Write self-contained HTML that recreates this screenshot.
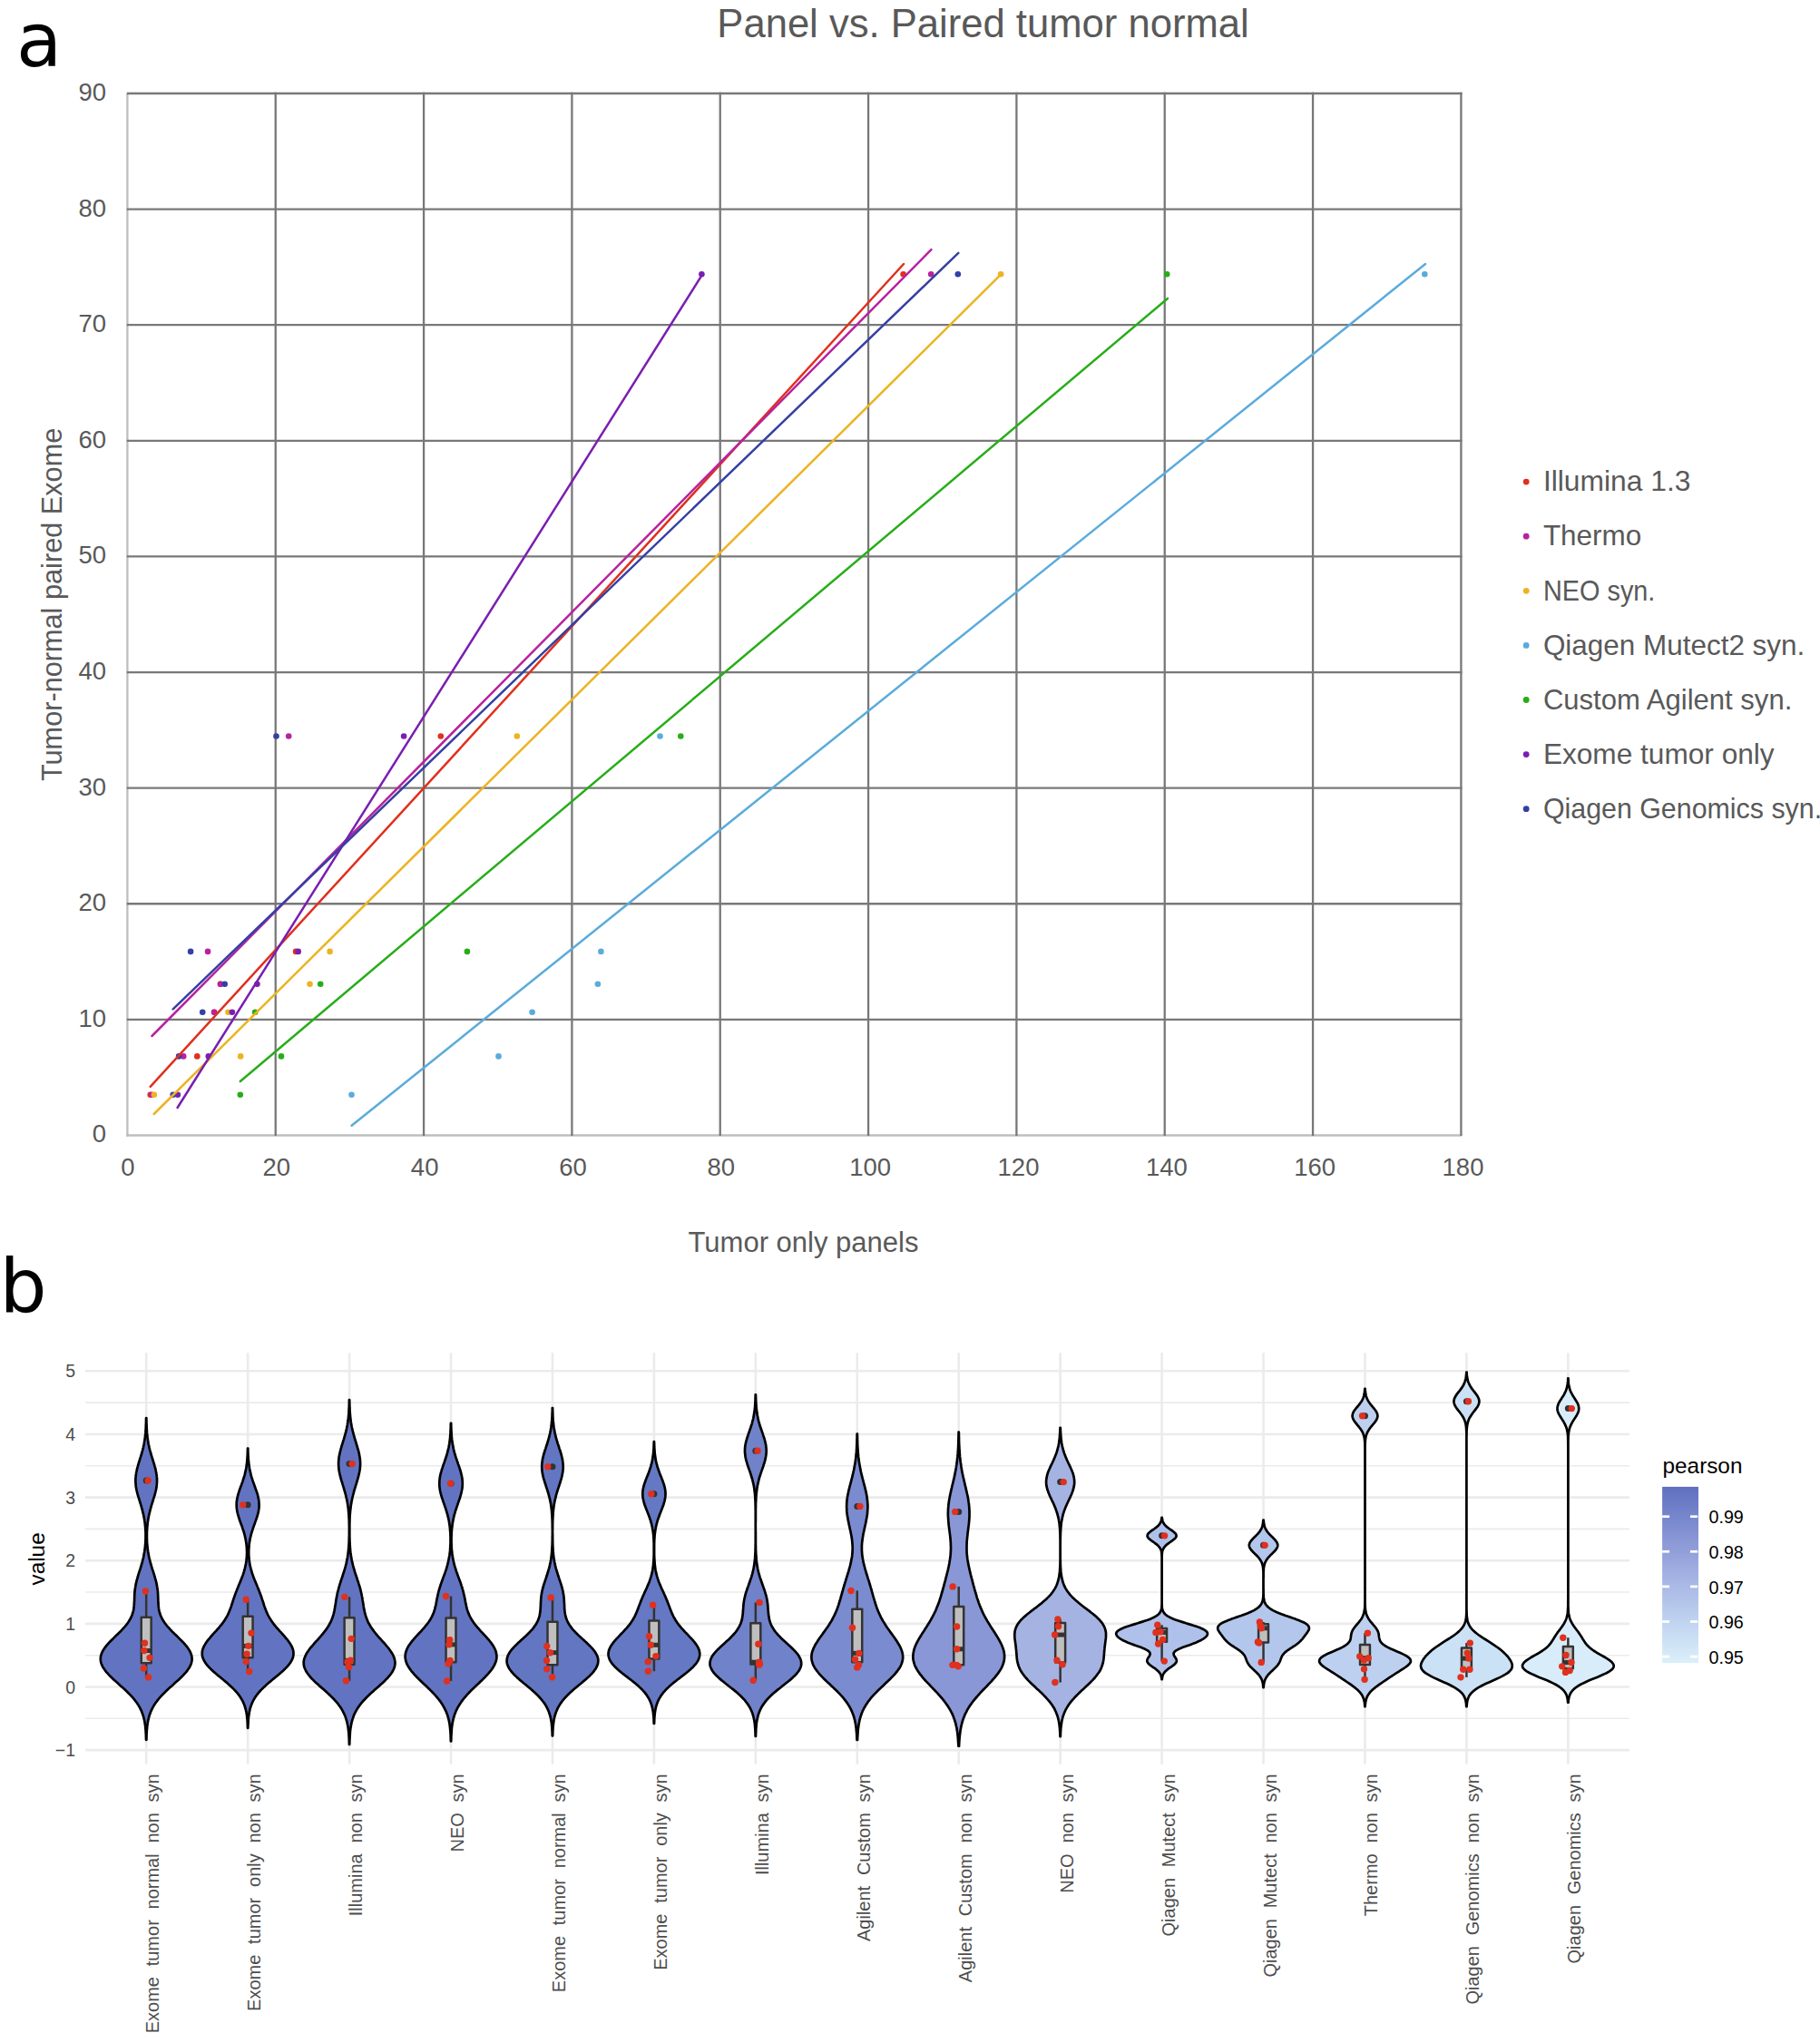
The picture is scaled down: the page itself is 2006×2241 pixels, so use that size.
<!DOCTYPE html>
<html lang="en"><head><meta charset="utf-8"><title>Panel vs. Paired tumor normal</title>
<style>
html,body{margin:0;padding:0;background:#fff;}
body{width:2006px;height:2241px;overflow:hidden;}
svg{display:block;}
text{white-space:pre;}
</style></head><body>
<svg width="2006" height="2241" viewBox="0 0 2006 2241">
<rect width="2006" height="2241" fill="#fff"/>
<g stroke="#bebebe" stroke-width="2.3" fill="none">
<line x1="140.40" y1="103.00" x2="140.40" y2="1252.64"/>
<line x1="139.25" y1="1251.49" x2="1611.20" y2="1251.49"/>
</g>
<g stroke="#787878" stroke-width="2.3" fill="none">
<line x1="139.80" y1="103.00" x2="1611.55" y2="103.00"/>
<line x1="139.80" y1="230.61" x2="1611.55" y2="230.61"/>
<line x1="139.80" y1="358.22" x2="1611.55" y2="358.22"/>
<line x1="139.80" y1="485.83" x2="1611.55" y2="485.83"/>
<line x1="139.80" y1="613.44" x2="1611.55" y2="613.44"/>
<line x1="139.80" y1="741.05" x2="1611.55" y2="741.05"/>
<line x1="139.80" y1="868.66" x2="1611.55" y2="868.66"/>
<line x1="139.80" y1="996.27" x2="1611.55" y2="996.27"/>
<line x1="139.80" y1="1123.88" x2="1611.55" y2="1123.88"/>
<line x1="303.73" y1="101.85" x2="303.73" y2="1252.09"/>
<line x1="467.07" y1="101.85" x2="467.07" y2="1252.09"/>
<line x1="630.40" y1="101.85" x2="630.40" y2="1252.09"/>
<line x1="793.73" y1="101.85" x2="793.73" y2="1252.09"/>
<line x1="957.06" y1="101.85" x2="957.06" y2="1252.09"/>
<line x1="1120.40" y1="101.85" x2="1120.40" y2="1252.09"/>
<line x1="1283.73" y1="101.85" x2="1283.73" y2="1252.09"/>
<line x1="1447.06" y1="101.85" x2="1447.06" y2="1252.09"/>
<line x1="1610.40" y1="101.85" x2="1610.40" y2="1252.09"/>
</g>
<g fill="#e0301e"><circle cx="165.70" cy="1206.70" r="3.3"/><circle cx="217.30" cy="1164.40" r="3.3"/><circle cx="236.10" cy="1115.80" r="3.3"/><circle cx="243.00" cy="1084.70" r="3.3"/><circle cx="326.10" cy="1048.90" r="3.3"/><circle cx="485.80" cy="811.50" r="3.3"/><circle cx="995.60" cy="302.20" r="3.3"/></g>
<g fill="#b8229e"><circle cx="167.50" cy="1206.70" r="3.3"/><circle cx="202.20" cy="1164.40" r="3.3"/><circle cx="236.10" cy="1115.80" r="3.3"/><circle cx="243.00" cy="1084.70" r="3.3"/><circle cx="229.05" cy="1048.90" r="3.3"/><circle cx="318.20" cy="811.50" r="3.3"/><circle cx="1026.20" cy="302.20" r="3.3"/></g>
<g fill="#edb321"><circle cx="169.90" cy="1206.70" r="3.3"/><circle cx="265.20" cy="1164.40" r="3.3"/><circle cx="251.50" cy="1115.80" r="3.3"/><circle cx="341.50" cy="1084.70" r="3.3"/><circle cx="363.60" cy="1048.90" r="3.3"/><circle cx="569.80" cy="811.50" r="3.3"/><circle cx="1103.10" cy="302.20" r="3.3"/></g>
<g fill="#5babdc"><circle cx="387.50" cy="1206.70" r="3.3"/><circle cx="549.50" cy="1164.40" r="3.3"/><circle cx="586.60" cy="1115.80" r="3.3"/><circle cx="658.90" cy="1084.70" r="3.3"/><circle cx="662.40" cy="1048.90" r="3.3"/><circle cx="727.50" cy="811.50" r="3.3"/><circle cx="1570.30" cy="302.20" r="3.3"/></g>
<g fill="#27ad19"><circle cx="264.80" cy="1206.70" r="3.3"/><circle cx="310.00" cy="1164.40" r="3.3"/><circle cx="281.15" cy="1115.80" r="3.3"/><circle cx="353.20" cy="1084.70" r="3.3"/><circle cx="514.90" cy="1048.90" r="3.3"/><circle cx="750.30" cy="811.50" r="3.3"/><circle cx="1286.20" cy="302.20" r="3.3"/></g>
<g fill="#7a1fb0"><circle cx="195.90" cy="1206.70" r="3.3"/><circle cx="229.80" cy="1164.40" r="3.3"/><circle cx="255.90" cy="1115.80" r="3.3"/><circle cx="283.40" cy="1084.70" r="3.3"/><circle cx="328.70" cy="1048.90" r="3.3"/><circle cx="445.10" cy="811.50" r="3.3"/><circle cx="773.40" cy="302.20" r="3.3"/></g>
<g fill="#3440a4"><circle cx="190.70" cy="1206.70" r="3.3"/><circle cx="197.10" cy="1164.40" r="3.3"/><circle cx="223.25" cy="1115.80" r="3.3"/><circle cx="247.70" cy="1084.70" r="3.3"/><circle cx="210.10" cy="1048.90" r="3.3"/><circle cx="304.50" cy="811.50" r="3.3"/><circle cx="1055.80" cy="302.20" r="3.3"/></g>
<line x1="165.70" y1="1197.80" x2="996.00" y2="291.00" stroke="#e0301e" stroke-width="2.5" stroke-linecap="round"/>
<line x1="167.50" y1="1142.00" x2="1026.40" y2="275.20" stroke="#b8229e" stroke-width="2.5" stroke-linecap="round"/>
<line x1="169.70" y1="1228.00" x2="1103.10" y2="302.60" stroke="#edb321" stroke-width="2.5" stroke-linecap="round"/>
<line x1="387.60" y1="1240.80" x2="1571.00" y2="291.00" stroke="#5babdc" stroke-width="2.5" stroke-linecap="round"/>
<line x1="264.80" y1="1192.00" x2="1287.00" y2="329.00" stroke="#27ad19" stroke-width="2.5" stroke-linecap="round"/>
<line x1="195.60" y1="1221.00" x2="773.40" y2="303.70" stroke="#7a1fb0" stroke-width="2.5" stroke-linecap="round"/>
<line x1="190.70" y1="1112.40" x2="1056.30" y2="278.90" stroke="#3440a4" stroke-width="2.5" stroke-linecap="round"/>
<g font-family='"Liberation Sans", Arial, Helvetica, sans-serif' font-size="27.5" fill="#595959">
<text x="117.1" y="110.90" text-anchor="end">90</text>
<text x="117.1" y="238.51" text-anchor="end">80</text>
<text x="117.1" y="366.12" text-anchor="end">70</text>
<text x="117.1" y="493.73" text-anchor="end">60</text>
<text x="117.1" y="621.34" text-anchor="end">50</text>
<text x="117.1" y="748.95" text-anchor="end">40</text>
<text x="117.1" y="876.56" text-anchor="end">30</text>
<text x="117.1" y="1004.17" text-anchor="end">20</text>
<text x="117.1" y="1131.78" text-anchor="end">10</text>
<text x="117.1" y="1259.39" text-anchor="end">0</text>
<text x="140.90" y="1296.0" text-anchor="middle">0</text>
<text x="304.83" y="1296.0" text-anchor="middle">20</text>
<text x="468.17" y="1296.0" text-anchor="middle">40</text>
<text x="631.50" y="1296.0" text-anchor="middle">60</text>
<text x="794.83" y="1296.0" text-anchor="middle">80</text>
<text x="959.16" y="1296.0" text-anchor="middle">100</text>
<text x="1122.50" y="1296.0" text-anchor="middle">120</text>
<text x="1285.83" y="1296.0" text-anchor="middle">140</text>
<text x="1449.16" y="1296.0" text-anchor="middle">160</text>
<text x="1612.50" y="1296.0" text-anchor="middle">180</text>
</g>
<text x="1083.5" y="41.1" font-family='"Liberation Sans", Arial, Helvetica, sans-serif' font-size="43.6" fill="#595959" text-anchor="middle">Panel vs. Paired tumor normal</text>
<text x="885.5" y="1379.8" font-family='"Liberation Sans", Arial, Helvetica, sans-serif' font-size="31" fill="#595959" text-anchor="middle">Tumor only panels</text>
<text transform="translate(68.05,666.4) rotate(-90)" font-family='"Liberation Sans", Arial, Helvetica, sans-serif' font-size="30.7" fill="#595959" text-anchor="middle">Tumor-normal paired Exome</text>
<circle cx="1682.2" cy="531.10" r="3.4" fill="#e0301e"/>
<text x="1700.9" y="541.30" font-family='"Liberation Sans", Arial, Helvetica, sans-serif' font-size="31.5" fill="#595959" textLength="162.6" lengthAdjust="spacingAndGlyphs">Illumina 1.3</text>
<circle cx="1682.2" cy="591.20" r="3.4" fill="#b8229e"/>
<text x="1700.9" y="601.40" font-family='"Liberation Sans", Arial, Helvetica, sans-serif' font-size="31.5" fill="#595959" textLength="108.4" lengthAdjust="spacingAndGlyphs">Thermo</text>
<circle cx="1682.2" cy="651.30" r="3.4" fill="#edb321"/>
<text x="1700.9" y="661.50" font-family='"Liberation Sans", Arial, Helvetica, sans-serif' font-size="31.5" fill="#595959" textLength="123.5" lengthAdjust="spacingAndGlyphs">NEO syn.</text>
<circle cx="1682.2" cy="711.40" r="3.4" fill="#5babdc"/>
<text x="1700.9" y="721.60" font-family='"Liberation Sans", Arial, Helvetica, sans-serif' font-size="31.5" fill="#595959" textLength="288.4" lengthAdjust="spacingAndGlyphs">Qiagen Mutect2 syn.</text>
<circle cx="1682.2" cy="771.50" r="3.4" fill="#27ad19"/>
<text x="1700.9" y="781.70" font-family='"Liberation Sans", Arial, Helvetica, sans-serif' font-size="31.5" fill="#595959" textLength="274.4" lengthAdjust="spacingAndGlyphs">Custom Agilent syn.</text>
<circle cx="1682.2" cy="831.60" r="3.4" fill="#7a1fb0"/>
<text x="1700.9" y="841.80" font-family='"Liberation Sans", Arial, Helvetica, sans-serif' font-size="31.5" fill="#595959" textLength="254.8" lengthAdjust="spacingAndGlyphs">Exome tumor only</text>
<circle cx="1682.2" cy="891.70" r="3.4" fill="#3440a4"/>
<text x="1700.9" y="901.90" font-family='"Liberation Sans", Arial, Helvetica, sans-serif' font-size="31.5" fill="#595959" textLength="307.2" lengthAdjust="spacingAndGlyphs">Qiagen Genomics syn.</text>
<text x="17.9" y="72.5" font-family='"DejaVu Sans", "Liberation Sans", sans-serif' font-size="82" fill="#000">a</text>
<text x="-0.6" y="1446.1" font-family='"DejaVu Sans", "Liberation Sans", sans-serif' font-size="82" fill="#000">b</text>
<g stroke="#ebebeb" fill="none">
<line x1="94.05" y1="1929.14" x2="1796.0" y2="1929.14" stroke-width="2.6"/>
<line x1="94.05" y1="1894.32" x2="1796.0" y2="1894.32" stroke-width="1.6"/>
<line x1="94.05" y1="1859.50" x2="1796.0" y2="1859.50" stroke-width="2.6"/>
<line x1="94.05" y1="1824.68" x2="1796.0" y2="1824.68" stroke-width="1.6"/>
<line x1="94.05" y1="1789.86" x2="1796.0" y2="1789.86" stroke-width="2.6"/>
<line x1="94.05" y1="1755.04" x2="1796.0" y2="1755.04" stroke-width="1.6"/>
<line x1="94.05" y1="1720.22" x2="1796.0" y2="1720.22" stroke-width="2.6"/>
<line x1="94.05" y1="1685.40" x2="1796.0" y2="1685.40" stroke-width="1.6"/>
<line x1="94.05" y1="1650.58" x2="1796.0" y2="1650.58" stroke-width="2.6"/>
<line x1="94.05" y1="1615.76" x2="1796.0" y2="1615.76" stroke-width="1.6"/>
<line x1="94.05" y1="1580.94" x2="1796.0" y2="1580.94" stroke-width="2.6"/>
<line x1="94.05" y1="1546.12" x2="1796.0" y2="1546.12" stroke-width="1.6"/>
<line x1="94.05" y1="1511.30" x2="1796.0" y2="1511.30" stroke-width="2.6"/>
<line x1="161.20" y1="1491.2" x2="161.20" y2="1944.8" stroke-width="2.6"/>
<line x1="273.14" y1="1491.2" x2="273.14" y2="1944.8" stroke-width="2.6"/>
<line x1="385.08" y1="1491.2" x2="385.08" y2="1944.8" stroke-width="2.6"/>
<line x1="497.02" y1="1491.2" x2="497.02" y2="1944.8" stroke-width="2.6"/>
<line x1="608.96" y1="1491.2" x2="608.96" y2="1944.8" stroke-width="2.6"/>
<line x1="720.90" y1="1491.2" x2="720.90" y2="1944.8" stroke-width="2.6"/>
<line x1="832.84" y1="1491.2" x2="832.84" y2="1944.8" stroke-width="2.6"/>
<line x1="944.78" y1="1491.2" x2="944.78" y2="1944.8" stroke-width="2.6"/>
<line x1="1056.72" y1="1491.2" x2="1056.72" y2="1944.8" stroke-width="2.6"/>
<line x1="1168.66" y1="1491.2" x2="1168.66" y2="1944.8" stroke-width="2.6"/>
<line x1="1280.60" y1="1491.2" x2="1280.60" y2="1944.8" stroke-width="2.6"/>
<line x1="1392.54" y1="1491.2" x2="1392.54" y2="1944.8" stroke-width="2.6"/>
<line x1="1504.48" y1="1491.2" x2="1504.48" y2="1944.8" stroke-width="2.6"/>
<line x1="1616.42" y1="1491.2" x2="1616.42" y2="1944.8" stroke-width="2.6"/>
<line x1="1728.36" y1="1491.2" x2="1728.36" y2="1944.8" stroke-width="2.6"/>
</g>
<path d="M161.0,1917.8 161.0,1916.2 160.9,1914.6 160.9,1912.9 160.8,1911.3 160.7,1909.7 160.6,1908.1 160.5,1906.5 160.3,1904.8 160.2,1903.2 160.0,1901.6 159.7,1900.0 159.5,1898.4 159.2,1896.8 158.8,1895.1 158.4,1893.5 158.0,1891.9 157.5,1890.3 156.9,1888.7 156.3,1887.0 155.6,1885.4 154.8,1883.8 154.0,1882.2 153.1,1880.6 152.1,1878.9 151.0,1877.3 149.8,1875.7 148.6,1874.1 147.3,1872.5 145.9,1870.8 144.4,1869.2 142.8,1867.6 141.2,1866.0 139.6,1864.4 137.9,1862.7 136.1,1861.1 134.3,1859.5 132.5,1857.9 130.7,1856.3 128.9,1854.6 127.1,1853.0 125.3,1851.4 123.6,1849.8 122.0,1848.2 120.4,1846.6 118.9,1844.9 117.4,1843.3 116.1,1841.7 115.0,1840.1 113.9,1838.5 113.0,1836.8 112.2,1835.2 111.6,1833.6 111.2,1832.0 110.9,1830.4 110.8,1828.7 110.9,1827.1 111.1,1825.5 111.6,1823.9 112.1,1822.3 112.9,1820.6 113.7,1819.0 114.8,1817.4 115.9,1815.8 117.2,1814.2 118.6,1812.5 120.0,1810.9 121.6,1809.3 123.2,1807.7 124.8,1806.1 126.5,1804.4 128.1,1802.8 129.8,1801.2 131.5,1799.6 133.1,1798.0 134.6,1796.4 136.1,1794.7 137.6,1793.1 138.9,1791.5 140.2,1789.9 141.3,1788.3 142.4,1786.6 143.3,1785.0 144.2,1783.4 144.9,1781.8 145.6,1780.2 146.1,1778.5 146.6,1776.9 147.0,1775.3 147.3,1773.7 147.5,1772.1 147.7,1770.4 147.8,1768.8 147.9,1767.2 148.0,1765.6 148.1,1764.0 148.1,1762.3 148.2,1760.7 148.2,1759.1 148.3,1757.5 148.4,1755.9 148.5,1754.2 148.7,1752.6 148.9,1751.0 149.2,1749.4 149.4,1747.8 149.8,1746.2 150.1,1744.5 150.5,1742.9 150.9,1741.3 151.4,1739.7 151.8,1738.1 152.3,1736.4 152.8,1734.8 153.3,1733.2 153.8,1731.6 154.4,1730.0 154.9,1728.3 155.4,1726.7 155.8,1725.1 156.3,1723.5 156.8,1721.9 157.2,1720.2 157.6,1718.6 158.0,1717.0 158.3,1715.4 158.6,1713.8 158.9,1712.1 159.2,1710.5 159.4,1708.9 159.7,1707.3 159.8,1705.7 160.0,1704.1 160.1,1702.4 160.3,1700.8 160.4,1699.2 160.4,1697.6 160.5,1696.0 160.5,1694.3 160.5,1692.7 160.5,1691.1 160.5,1689.5 160.4,1687.9 160.3,1686.2 160.2,1684.6 160.1,1683.0 159.9,1681.4 159.8,1679.8 159.6,1678.1 159.3,1676.5 159.1,1674.9 158.8,1673.3 158.5,1671.7 158.2,1670.0 157.8,1668.4 157.4,1666.8 157.0,1665.2 156.6,1663.6 156.1,1661.9 155.7,1660.3 155.2,1658.7 154.7,1657.1 154.2,1655.5 153.7,1653.9 153.2,1652.2 152.7,1650.6 152.2,1649.0 151.7,1647.4 151.3,1645.8 150.9,1644.1 150.5,1642.5 150.2,1640.9 149.9,1639.3 149.7,1637.7 149.6,1636.0 149.4,1634.4 149.4,1632.8 149.4,1631.2 149.4,1629.6 149.6,1627.9 149.7,1626.3 150.0,1624.7 150.2,1623.1 150.6,1621.5 150.9,1619.8 151.3,1618.2 151.8,1616.6 152.2,1615.0 152.7,1613.4 153.2,1611.7 153.7,1610.1 154.2,1608.5 154.7,1606.9 155.2,1605.3 155.7,1603.7 156.2,1602.0 156.6,1600.4 157.1,1598.8 157.5,1597.2 157.9,1595.6 158.2,1593.9 158.6,1592.3 158.9,1590.7 159.1,1589.1 159.4,1587.5 159.6,1585.8 159.9,1584.2 160.0,1582.6 160.2,1581.0 160.4,1579.4 160.5,1577.7 160.6,1576.1 160.7,1574.5 160.8,1572.9 160.8,1571.3 160.9,1569.6 161.0,1568.0 161.0,1566.4 161.0,1564.8 161.1,1563.2 161.3,1563.2 161.4,1564.8 161.4,1566.4 161.4,1568.0 161.5,1569.6 161.6,1571.3 161.6,1572.9 161.7,1574.5 161.8,1576.1 161.9,1577.7 162.0,1579.4 162.2,1581.0 162.4,1582.6 162.5,1584.2 162.8,1585.8 163.0,1587.5 163.3,1589.1 163.5,1590.7 163.8,1592.3 164.2,1593.9 164.5,1595.6 164.9,1597.2 165.3,1598.8 165.8,1600.4 166.2,1602.0 166.7,1603.7 167.2,1605.3 167.7,1606.9 168.2,1608.5 168.7,1610.1 169.2,1611.7 169.7,1613.4 170.2,1615.0 170.6,1616.6 171.1,1618.2 171.5,1619.8 171.8,1621.5 172.2,1623.1 172.4,1624.7 172.7,1626.3 172.8,1627.9 173.0,1629.6 173.0,1631.2 173.0,1632.8 173.0,1634.4 172.8,1636.0 172.7,1637.7 172.5,1639.3 172.2,1640.9 171.9,1642.5 171.5,1644.1 171.1,1645.8 170.7,1647.4 170.2,1649.0 169.7,1650.6 169.2,1652.2 168.7,1653.9 168.2,1655.5 167.7,1657.1 167.2,1658.7 166.7,1660.3 166.3,1661.9 165.8,1663.6 165.4,1665.2 165.0,1666.8 164.6,1668.4 164.2,1670.0 163.9,1671.7 163.6,1673.3 163.3,1674.9 163.1,1676.5 162.8,1678.1 162.6,1679.8 162.5,1681.4 162.3,1683.0 162.2,1684.6 162.1,1686.2 162.0,1687.9 161.9,1689.5 161.9,1691.1 161.9,1692.7 161.9,1694.3 161.9,1696.0 162.0,1697.6 162.0,1699.2 162.1,1700.8 162.3,1702.4 162.4,1704.1 162.6,1705.7 162.7,1707.3 163.0,1708.9 163.2,1710.5 163.5,1712.1 163.8,1713.8 164.1,1715.4 164.4,1717.0 164.8,1718.6 165.2,1720.2 165.6,1721.9 166.1,1723.5 166.6,1725.1 167.0,1726.7 167.5,1728.3 168.0,1730.0 168.6,1731.6 169.1,1733.2 169.6,1734.8 170.1,1736.4 170.6,1738.1 171.0,1739.7 171.5,1741.3 171.9,1742.9 172.3,1744.5 172.6,1746.2 173.0,1747.8 173.2,1749.4 173.5,1751.0 173.7,1752.6 173.9,1754.2 174.0,1755.9 174.1,1757.5 174.2,1759.1 174.2,1760.7 174.3,1762.3 174.3,1764.0 174.4,1765.6 174.5,1767.2 174.6,1768.8 174.7,1770.4 174.9,1772.1 175.1,1773.7 175.4,1775.3 175.8,1776.9 176.3,1778.5 176.8,1780.2 177.5,1781.8 178.2,1783.4 179.1,1785.0 180.0,1786.6 181.1,1788.3 182.2,1789.9 183.5,1791.5 184.8,1793.1 186.3,1794.7 187.8,1796.4 189.3,1798.0 190.9,1799.6 192.6,1801.2 194.3,1802.8 195.9,1804.4 197.6,1806.1 199.2,1807.7 200.8,1809.3 202.4,1810.9 203.8,1812.5 205.2,1814.2 206.5,1815.8 207.6,1817.4 208.7,1819.0 209.5,1820.6 210.3,1822.3 210.8,1823.9 211.3,1825.5 211.5,1827.1 211.6,1828.7 211.5,1830.4 211.2,1832.0 210.8,1833.6 210.2,1835.2 209.4,1836.8 208.5,1838.5 207.4,1840.1 206.3,1841.7 205.0,1843.3 203.5,1844.9 202.0,1846.6 200.4,1848.2 198.8,1849.8 197.1,1851.4 195.3,1853.0 193.5,1854.6 191.7,1856.3 189.9,1857.9 188.1,1859.5 186.3,1861.1 184.5,1862.7 182.8,1864.4 181.2,1866.0 179.6,1867.6 178.0,1869.2 176.5,1870.8 175.1,1872.5 173.8,1874.1 172.6,1875.7 171.4,1877.3 170.3,1878.9 169.3,1880.6 168.4,1882.2 167.6,1883.8 166.8,1885.4 166.1,1887.0 165.5,1888.7 164.9,1890.3 164.4,1891.9 164.0,1893.5 163.6,1895.1 163.2,1896.8 162.9,1898.4 162.7,1900.0 162.4,1901.6 162.2,1903.2 162.1,1904.8 161.9,1906.5 161.8,1908.1 161.7,1909.7 161.6,1911.3 161.5,1912.9 161.5,1914.6 161.4,1916.2 161.4,1917.8Z" fill="#6274c1" stroke="#000" stroke-width="2.7" stroke-linejoin="round"/>
<g stroke="#333" stroke-width="2.5" fill="none">
<line x1="161.20" y1="1754.07" x2="161.20" y2="1782.69"/>
<line x1="161.20" y1="1833.14" x2="161.20" y2="1848.91"/>
<rect x="155.75" y="1782.69" width="10.90" height="50.45" fill="#bfbfbf" stroke-linejoin="round"/>
<line x1="155.75" y1="1819.53" x2="166.65" y2="1819.53" stroke-width="5"/>
</g>
<circle cx="161.20" cy="1632.06" r="3.5" fill="#333"/>
<g fill="#e0301e"><circle cx="163.20" cy="1632.06" r="3.7"/><circle cx="160.40" cy="1754.07" r="3.7"/><circle cx="159.50" cy="1811.31" r="3.7"/><circle cx="158.90" cy="1819.53" r="3.7"/><circle cx="165.10" cy="1827.33" r="3.7"/><circle cx="158.40" cy="1838.96" r="3.7"/><circle cx="163.60" cy="1848.91" r="3.7"/></g>
<path d="M273.0,1904.8 272.9,1903.4 272.9,1902.0 272.8,1900.6 272.8,1899.2 272.7,1897.8 272.6,1896.4 272.5,1895.0 272.3,1893.5 272.2,1892.1 272.0,1890.7 271.8,1889.3 271.6,1887.9 271.3,1886.5 271.0,1885.1 270.6,1883.7 270.2,1882.3 269.8,1880.9 269.3,1879.5 268.8,1878.1 268.1,1876.7 267.5,1875.2 266.7,1873.8 265.9,1872.4 265.0,1871.0 264.1,1869.6 263.1,1868.2 262.0,1866.8 260.8,1865.4 259.5,1864.0 258.2,1862.6 256.9,1861.2 255.4,1859.8 253.9,1858.4 252.3,1856.9 250.7,1855.5 249.1,1854.1 247.4,1852.7 245.7,1851.3 244.0,1849.9 242.3,1848.5 240.6,1847.1 238.9,1845.7 237.3,1844.3 235.6,1842.9 234.1,1841.5 232.6,1840.1 231.2,1838.6 229.8,1837.2 228.6,1835.8 227.4,1834.4 226.4,1833.0 225.5,1831.6 224.7,1830.2 224.1,1828.8 223.5,1827.4 223.1,1826.0 222.9,1824.6 222.8,1823.2 222.8,1821.7 222.9,1820.3 223.2,1818.9 223.6,1817.5 224.2,1816.1 224.8,1814.7 225.6,1813.3 226.4,1811.9 227.3,1810.5 228.3,1809.1 229.4,1807.7 230.6,1806.3 231.8,1804.9 233.0,1803.4 234.2,1802.0 235.5,1800.6 236.8,1799.2 238.1,1797.8 239.3,1796.4 240.6,1795.0 241.8,1793.6 242.9,1792.2 244.1,1790.8 245.2,1789.4 246.2,1788.0 247.2,1786.6 248.1,1785.1 249.0,1783.7 249.8,1782.3 250.6,1780.9 251.3,1779.5 251.9,1778.1 252.5,1776.7 253.1,1775.3 253.7,1773.9 254.2,1772.5 254.7,1771.1 255.1,1769.7 255.6,1768.3 256.1,1766.8 256.5,1765.4 257.0,1764.0 257.4,1762.6 257.9,1761.2 258.4,1759.8 258.9,1758.4 259.4,1757.0 259.9,1755.6 260.5,1754.2 261.0,1752.8 261.6,1751.4 262.2,1749.9 262.7,1748.5 263.3,1747.1 263.9,1745.7 264.5,1744.3 265.1,1742.9 265.6,1741.5 266.2,1740.1 266.7,1738.7 267.3,1737.3 267.8,1735.9 268.2,1734.5 268.7,1733.1 269.1,1731.6 269.5,1730.2 269.9,1728.8 270.2,1727.4 270.5,1726.0 270.8,1724.6 271.1,1723.2 271.3,1721.8 271.5,1720.4 271.6,1719.0 271.8,1717.6 271.9,1716.2 272.0,1714.8 272.0,1713.3 272.1,1711.9 272.1,1710.5 272.0,1709.1 272.0,1707.7 271.9,1706.3 271.8,1704.9 271.7,1703.5 271.5,1702.1 271.4,1700.7 271.1,1699.3 270.9,1697.9 270.6,1696.5 270.3,1695.0 270.0,1693.6 269.7,1692.2 269.3,1690.8 268.9,1689.4 268.5,1688.0 268.0,1686.6 267.5,1685.2 267.1,1683.8 266.6,1682.4 266.1,1681.0 265.5,1679.6 265.0,1678.1 264.5,1676.7 264.0,1675.3 263.6,1673.9 263.1,1672.5 262.7,1671.1 262.3,1669.7 261.9,1668.3 261.6,1666.9 261.3,1665.5 261.1,1664.1 260.9,1662.7 260.8,1661.3 260.7,1659.8 260.7,1658.4 260.7,1657.0 260.8,1655.6 261.0,1654.2 261.2,1652.8 261.5,1651.4 261.8,1650.0 262.1,1648.6 262.5,1647.2 262.9,1645.8 263.4,1644.4 263.8,1643.0 264.3,1641.5 264.8,1640.1 265.3,1638.7 265.9,1637.3 266.4,1635.9 266.9,1634.5 267.4,1633.1 267.8,1631.7 268.3,1630.3 268.7,1628.9 269.2,1627.5 269.6,1626.1 269.9,1624.7 270.3,1623.2 270.6,1621.8 270.9,1620.4 271.2,1619.0 271.4,1617.6 271.6,1616.2 271.8,1614.8 272.0,1613.4 272.2,1612.0 272.3,1610.6 272.4,1609.2 272.5,1607.8 272.6,1606.3 272.7,1604.9 272.8,1603.5 272.8,1602.1 272.9,1600.7 272.9,1599.3 273.0,1597.9 273.0,1596.5 273.3,1596.5 273.3,1597.9 273.3,1599.3 273.4,1600.7 273.4,1602.1 273.5,1603.5 273.6,1604.9 273.7,1606.3 273.7,1607.8 273.9,1609.2 274.0,1610.6 274.1,1612.0 274.3,1613.4 274.5,1614.8 274.7,1616.2 274.9,1617.6 275.1,1619.0 275.4,1620.4 275.7,1621.8 276.0,1623.2 276.4,1624.7 276.7,1626.1 277.1,1627.5 277.5,1628.9 278.0,1630.3 278.4,1631.7 278.9,1633.1 279.4,1634.5 279.9,1635.9 280.4,1637.3 280.9,1638.7 281.4,1640.1 281.9,1641.5 282.4,1643.0 282.9,1644.4 283.4,1645.8 283.8,1647.2 284.2,1648.6 284.5,1650.0 284.8,1651.4 285.1,1652.8 285.3,1654.2 285.4,1655.6 285.5,1657.0 285.6,1658.4 285.6,1659.8 285.5,1661.3 285.4,1662.7 285.2,1664.1 285.0,1665.5 284.7,1666.9 284.4,1668.3 284.0,1669.7 283.6,1671.1 283.2,1672.5 282.7,1673.9 282.2,1675.3 281.7,1676.7 281.2,1678.1 280.7,1679.6 280.2,1681.0 279.7,1682.4 279.2,1683.8 278.7,1685.2 278.3,1686.6 277.8,1688.0 277.4,1689.4 277.0,1690.8 276.6,1692.2 276.3,1693.6 275.9,1695.0 275.6,1696.5 275.4,1697.9 275.1,1699.3 274.9,1700.7 274.7,1702.1 274.6,1703.5 274.5,1704.9 274.4,1706.3 274.3,1707.7 274.2,1709.1 274.2,1710.5 274.2,1711.9 274.2,1713.3 274.3,1714.8 274.4,1716.2 274.5,1717.6 274.6,1719.0 274.8,1720.4 275.0,1721.8 275.2,1723.2 275.5,1724.6 275.7,1726.0 276.1,1727.4 276.4,1728.8 276.8,1730.2 277.2,1731.6 277.6,1733.1 278.0,1734.5 278.5,1735.9 279.0,1737.3 279.5,1738.7 280.1,1740.1 280.6,1741.5 281.2,1742.9 281.8,1744.3 282.4,1745.7 283.0,1747.1 283.5,1748.5 284.1,1749.9 284.7,1751.4 285.3,1752.8 285.8,1754.2 286.4,1755.6 286.9,1757.0 287.4,1758.4 287.9,1759.8 288.4,1761.2 288.8,1762.6 289.3,1764.0 289.8,1765.4 290.2,1766.8 290.7,1768.3 291.1,1769.7 291.6,1771.1 292.1,1772.5 292.6,1773.9 293.2,1775.3 293.7,1776.7 294.4,1778.1 295.0,1779.5 295.7,1780.9 296.5,1782.3 297.3,1783.7 298.2,1785.1 299.1,1786.6 300.1,1788.0 301.1,1789.4 302.2,1790.8 303.3,1792.2 304.5,1793.6 305.7,1795.0 307.0,1796.4 308.2,1797.8 309.5,1799.2 310.8,1800.6 312.0,1802.0 313.3,1803.4 314.5,1804.9 315.7,1806.3 316.9,1807.7 317.9,1809.1 318.9,1810.5 319.9,1811.9 320.7,1813.3 321.5,1814.7 322.1,1816.1 322.6,1817.5 323.1,1818.9 323.3,1820.3 323.5,1821.7 323.5,1823.2 323.4,1824.6 323.1,1826.0 322.8,1827.4 322.2,1828.8 321.6,1830.2 320.8,1831.6 319.9,1833.0 318.8,1834.4 317.7,1835.8 316.5,1837.2 315.1,1838.6 313.7,1840.1 312.2,1841.5 310.6,1842.9 309.0,1844.3 307.4,1845.7 305.7,1847.1 304.0,1848.5 302.3,1849.9 300.6,1851.3 298.9,1852.7 297.2,1854.1 295.5,1855.5 293.9,1856.9 292.4,1858.4 290.9,1859.8 289.4,1861.2 288.0,1862.6 286.7,1864.0 285.5,1865.4 284.3,1866.8 283.2,1868.2 282.2,1869.6 281.2,1871.0 280.4,1872.4 279.6,1873.8 278.8,1875.2 278.1,1876.7 277.5,1878.1 277.0,1879.5 276.5,1880.9 276.0,1882.3 275.6,1883.7 275.3,1885.1 275.0,1886.5 274.7,1887.9 274.5,1889.3 274.3,1890.7 274.1,1892.1 273.9,1893.5 273.8,1895.0 273.7,1896.4 273.6,1897.8 273.5,1899.2 273.5,1900.6 273.4,1902.0 273.3,1903.4 273.3,1904.8Z" fill="#6274c1" stroke="#000" stroke-width="2.7" stroke-linejoin="round"/>
<g stroke="#333" stroke-width="2.5" fill="none">
<line x1="273.14" y1="1763.19" x2="273.14" y2="1781.64"/>
<line x1="273.14" y1="1827.33" x2="273.14" y2="1842.44"/>
<rect x="267.69" y="1781.64" width="10.90" height="45.68" fill="#bfbfbf" stroke-linejoin="round"/>
<line x1="267.69" y1="1814.37" x2="278.59" y2="1814.37" stroke-width="5"/>
</g>
<circle cx="273.14" cy="1658.87" r="3.5" fill="#333"/>
<g fill="#e0301e"><circle cx="267.70" cy="1658.87" r="3.7"/><circle cx="271.20" cy="1763.19" r="3.7"/><circle cx="277.00" cy="1800.10" r="3.7"/><circle cx="273.80" cy="1814.37" r="3.7"/><circle cx="272.10" cy="1823.22" r="3.7"/><circle cx="271.20" cy="1831.44" r="3.7"/><circle cx="274.70" cy="1842.44" r="3.7"/></g>
<path d="M384.9,1923.0 384.9,1921.3 384.8,1919.6 384.8,1917.8 384.7,1916.1 384.6,1914.4 384.5,1912.6 384.4,1910.9 384.2,1909.2 384.0,1907.4 383.8,1905.7 383.6,1904.0 383.3,1902.2 382.9,1900.5 382.6,1898.8 382.1,1897.0 381.6,1895.3 381.1,1893.6 380.4,1891.8 379.7,1890.1 378.9,1888.3 378.0,1886.6 377.1,1884.9 376.0,1883.1 374.9,1881.4 373.6,1879.7 372.3,1877.9 370.8,1876.2 369.3,1874.5 367.7,1872.7 366.0,1871.0 364.2,1869.3 362.4,1867.5 360.5,1865.8 358.6,1864.1 356.7,1862.3 354.7,1860.6 352.7,1858.9 350.8,1857.1 348.9,1855.4 347.0,1853.7 345.2,1851.9 343.5,1850.2 341.9,1848.5 340.5,1846.7 339.2,1845.0 338.0,1843.3 337.0,1841.5 336.2,1839.8 335.5,1838.1 335.0,1836.3 334.8,1834.6 334.7,1832.9 334.8,1831.1 335.1,1829.4 335.6,1827.7 336.3,1825.9 337.1,1824.2 338.0,1822.4 339.1,1820.7 340.3,1819.0 341.6,1817.2 343.0,1815.5 344.5,1813.8 346.0,1812.0 347.5,1810.3 349.1,1808.6 350.7,1806.8 352.2,1805.1 353.7,1803.4 355.2,1801.6 356.6,1799.9 358.0,1798.2 359.3,1796.4 360.5,1794.7 361.6,1793.0 362.7,1791.2 363.6,1789.5 364.5,1787.8 365.3,1786.0 366.0,1784.3 366.6,1782.6 367.2,1780.8 367.7,1779.1 368.1,1777.4 368.5,1775.6 368.8,1773.9 369.1,1772.2 369.4,1770.4 369.7,1768.7 370.0,1767.0 370.2,1765.2 370.5,1763.5 370.8,1761.8 371.1,1760.0 371.5,1758.3 371.8,1756.5 372.2,1754.8 372.7,1753.1 373.1,1751.3 373.6,1749.6 374.1,1747.9 374.6,1746.1 375.2,1744.4 375.7,1742.7 376.3,1740.9 376.9,1739.2 377.5,1737.5 378.0,1735.7 378.6,1734.0 379.2,1732.3 379.7,1730.5 380.2,1728.8 380.7,1727.1 381.1,1725.3 381.6,1723.6 382.0,1721.9 382.3,1720.1 382.7,1718.4 383.0,1716.7 383.2,1714.9 383.5,1713.2 383.7,1711.5 383.9,1709.7 384.1,1708.0 384.2,1706.3 384.4,1704.5 384.5,1702.8 384.6,1701.1 384.7,1699.3 384.7,1697.6 384.8,1695.9 384.8,1694.1 384.9,1692.4 384.9,1690.7 384.9,1688.9 384.9,1687.2 384.9,1685.4 384.9,1683.7 384.9,1682.0 384.8,1680.2 384.8,1678.5 384.8,1676.8 384.7,1675.0 384.6,1673.3 384.5,1671.6 384.4,1669.8 384.3,1668.1 384.1,1666.4 384.0,1664.6 383.8,1662.9 383.6,1661.2 383.3,1659.4 383.1,1657.7 382.8,1656.0 382.5,1654.2 382.1,1652.5 381.7,1650.8 381.3,1649.0 380.9,1647.3 380.4,1645.6 379.9,1643.8 379.4,1642.1 378.9,1640.4 378.4,1638.6 377.8,1636.9 377.3,1635.2 376.8,1633.4 376.2,1631.7 375.7,1630.0 375.3,1628.2 374.8,1626.5 374.4,1624.8 374.1,1623.0 373.7,1621.3 373.5,1619.5 373.3,1617.8 373.2,1616.1 373.1,1614.3 373.1,1612.6 373.2,1610.9 373.3,1609.1 373.5,1607.4 373.7,1605.7 374.1,1603.9 374.4,1602.2 374.8,1600.5 375.3,1598.7 375.7,1597.0 376.2,1595.3 376.7,1593.5 377.3,1591.8 377.8,1590.1 378.3,1588.3 378.9,1586.6 379.4,1584.9 379.9,1583.1 380.4,1581.4 380.9,1579.7 381.3,1577.9 381.7,1576.2 382.1,1574.5 382.4,1572.7 382.8,1571.0 383.1,1569.3 383.3,1567.5 383.6,1565.8 383.8,1564.1 384.0,1562.3 384.1,1560.6 384.3,1558.9 384.4,1557.1 384.5,1555.4 384.6,1553.6 384.7,1551.9 384.8,1550.2 384.8,1548.4 384.9,1546.7 384.9,1545.0 384.9,1543.2 385.2,1543.2 385.2,1545.0 385.3,1546.7 385.3,1548.4 385.4,1550.2 385.5,1551.9 385.5,1553.6 385.6,1555.4 385.7,1557.1 385.9,1558.9 386.0,1560.6 386.2,1562.3 386.4,1564.1 386.6,1565.8 386.8,1567.5 387.1,1569.3 387.4,1571.0 387.7,1572.7 388.1,1574.5 388.5,1576.2 388.9,1577.9 389.3,1579.7 389.8,1581.4 390.3,1583.1 390.8,1584.9 391.3,1586.6 391.8,1588.3 392.4,1590.1 392.9,1591.8 393.4,1593.5 393.9,1595.3 394.4,1597.0 394.9,1598.7 395.4,1600.5 395.8,1602.2 396.1,1603.9 396.4,1605.7 396.7,1607.4 396.9,1609.1 397.0,1610.9 397.1,1612.6 397.1,1614.3 397.0,1616.1 396.9,1617.8 396.7,1619.5 396.4,1621.3 396.1,1623.0 395.7,1624.8 395.3,1626.5 394.9,1628.2 394.4,1630.0 393.9,1631.7 393.4,1633.4 392.9,1635.2 392.3,1636.9 391.8,1638.6 391.3,1640.4 390.7,1642.1 390.2,1643.8 389.8,1645.6 389.3,1647.3 388.9,1649.0 388.4,1650.8 388.1,1652.5 387.7,1654.2 387.4,1656.0 387.1,1657.7 386.8,1659.4 386.6,1661.2 386.4,1662.9 386.2,1664.6 386.0,1666.4 385.9,1668.1 385.7,1669.8 385.6,1671.6 385.5,1673.3 385.5,1675.0 385.4,1676.8 385.4,1678.5 385.3,1680.2 385.3,1682.0 385.3,1683.7 385.3,1685.4 385.3,1687.2 385.3,1688.9 385.3,1690.7 385.3,1692.4 385.3,1694.1 385.4,1695.9 385.4,1697.6 385.5,1699.3 385.6,1701.1 385.7,1702.8 385.8,1704.5 385.9,1706.3 386.1,1708.0 386.2,1709.7 386.4,1711.5 386.7,1713.2 386.9,1714.9 387.2,1716.7 387.5,1718.4 387.8,1720.1 388.2,1721.9 388.6,1723.6 389.0,1725.3 389.5,1727.1 390.0,1728.8 390.5,1730.5 391.0,1732.3 391.5,1734.0 392.1,1735.7 392.7,1737.5 393.3,1739.2 393.8,1740.9 394.4,1742.7 395.0,1744.4 395.5,1746.1 396.1,1747.9 396.6,1749.6 397.1,1751.3 397.5,1753.1 397.9,1754.8 398.3,1756.5 398.7,1758.3 399.0,1760.0 399.4,1761.8 399.6,1763.5 399.9,1765.2 400.2,1767.0 400.5,1768.7 400.7,1770.4 401.0,1772.2 401.3,1773.9 401.7,1775.6 402.0,1777.4 402.5,1779.1 403.0,1780.8 403.5,1782.6 404.2,1784.3 404.9,1786.0 405.6,1787.8 406.5,1789.5 407.5,1791.2 408.5,1793.0 409.7,1794.7 410.9,1796.4 412.2,1798.2 413.5,1799.9 414.9,1801.6 416.4,1803.4 417.9,1805.1 419.5,1806.8 421.1,1808.6 422.6,1810.3 424.2,1812.0 425.7,1813.8 427.1,1815.5 428.5,1817.2 429.8,1819.0 431.0,1820.7 432.1,1822.4 433.1,1824.2 433.9,1825.9 434.6,1827.7 435.0,1829.4 435.3,1831.1 435.5,1832.9 435.4,1834.6 435.1,1836.3 434.7,1838.1 434.0,1839.8 433.2,1841.5 432.2,1843.3 431.0,1845.0 429.7,1846.7 428.2,1848.5 426.6,1850.2 424.9,1851.9 423.2,1853.7 421.3,1855.4 419.4,1857.1 417.4,1858.9 415.5,1860.6 413.5,1862.3 411.6,1864.1 409.6,1865.8 407.7,1867.5 405.9,1869.3 404.1,1871.0 402.5,1872.7 400.8,1874.5 399.3,1876.2 397.9,1877.9 396.5,1879.7 395.3,1881.4 394.1,1883.1 393.1,1884.9 392.1,1886.6 391.2,1888.3 390.4,1890.1 389.7,1891.8 389.1,1893.6 388.5,1895.3 388.0,1897.0 387.6,1898.8 387.2,1900.5 386.9,1902.2 386.6,1904.0 386.3,1905.7 386.1,1907.4 385.9,1909.2 385.8,1910.9 385.7,1912.6 385.6,1914.4 385.5,1916.1 385.4,1917.8 385.3,1919.6 385.3,1921.3 385.2,1923.0Z" fill="#6274c1" stroke="#000" stroke-width="2.7" stroke-linejoin="round"/>
<g stroke="#333" stroke-width="2.5" fill="none">
<line x1="385.08" y1="1760.33" x2="385.08" y2="1783.35"/>
<line x1="385.08" y1="1834.78" x2="385.08" y2="1852.81"/>
<rect x="379.63" y="1783.35" width="10.90" height="51.43" fill="#bfbfbf" stroke-linejoin="round"/>
<line x1="379.63" y1="1830.32" x2="390.53" y2="1830.32" stroke-width="5"/>
</g>
<circle cx="385.08" cy="1613.46" r="3.5" fill="#333"/>
<g fill="#e0301e"><circle cx="388.10" cy="1613.46" r="3.7"/><circle cx="379.80" cy="1760.33" r="3.7"/><circle cx="387.20" cy="1806.36" r="3.7"/><circle cx="386.30" cy="1830.32" r="3.7"/><circle cx="383.10" cy="1832.06" r="3.7"/><circle cx="384.60" cy="1837.49" r="3.7"/><circle cx="381.40" cy="1852.81" r="3.7"/></g>
<path d="M496.9,1919.5 496.8,1917.9 496.8,1916.3 496.7,1914.7 496.7,1913.1 496.6,1911.5 496.5,1909.9 496.4,1908.3 496.2,1906.7 496.1,1905.1 495.9,1903.5 495.7,1901.9 495.5,1900.3 495.2,1898.7 494.9,1897.1 494.5,1895.5 494.1,1893.9 493.7,1892.3 493.2,1890.7 492.6,1889.1 492.0,1887.5 491.3,1885.9 490.5,1884.3 489.7,1882.7 488.8,1881.1 487.9,1879.5 486.9,1877.9 485.8,1876.3 484.6,1874.6 483.3,1873.0 482.0,1871.4 480.7,1869.8 479.2,1868.2 477.7,1866.6 476.2,1865.0 474.6,1863.4 473.0,1861.8 471.4,1860.2 469.7,1858.6 468.0,1857.0 466.3,1855.4 464.6,1853.8 463.0,1852.2 461.3,1850.6 459.7,1849.0 458.2,1847.4 456.7,1845.8 455.3,1844.2 453.9,1842.6 452.7,1841.0 451.5,1839.4 450.5,1837.8 449.5,1836.2 448.7,1834.6 448.0,1833.0 447.5,1831.4 447.0,1829.8 446.8,1828.2 446.6,1826.6 446.7,1825.0 446.8,1823.4 447.1,1821.8 447.6,1820.2 448.2,1818.6 448.9,1817.0 449.7,1815.4 450.7,1813.8 451.8,1812.2 453.0,1810.6 454.2,1809.0 455.6,1807.4 456.9,1805.8 458.4,1804.2 459.8,1802.6 461.3,1801.0 462.8,1799.4 464.3,1797.8 465.8,1796.2 467.2,1794.6 468.5,1793.0 469.8,1791.4 471.1,1789.8 472.3,1788.2 473.4,1786.6 474.4,1785.0 475.3,1783.4 476.1,1781.8 476.9,1780.2 477.6,1778.6 478.2,1777.0 478.7,1775.4 479.2,1773.8 479.6,1772.2 480.0,1770.6 480.4,1769.0 480.7,1767.4 481.0,1765.8 481.3,1764.2 481.6,1762.6 481.9,1761.0 482.3,1759.4 482.6,1757.8 483.0,1756.2 483.4,1754.5 483.8,1752.9 484.3,1751.3 484.8,1749.7 485.3,1748.1 485.8,1746.5 486.4,1744.9 487.0,1743.3 487.5,1741.7 488.1,1740.1 488.7,1738.5 489.3,1736.9 489.9,1735.3 490.5,1733.7 491.0,1732.1 491.6,1730.5 492.1,1728.9 492.5,1727.3 493.0,1725.7 493.4,1724.1 493.8,1722.5 494.2,1720.9 494.5,1719.3 494.8,1717.7 495.1,1716.1 495.4,1714.5 495.6,1712.9 495.8,1711.3 496.0,1709.7 496.1,1708.1 496.2,1706.5 496.3,1704.9 496.4,1703.3 496.5,1701.7 496.5,1700.1 496.5,1698.5 496.5,1696.9 496.5,1695.3 496.5,1693.7 496.4,1692.1 496.4,1690.5 496.3,1688.9 496.1,1687.3 496.0,1685.7 495.9,1684.1 495.7,1682.5 495.5,1680.9 495.2,1679.3 495.0,1677.7 494.7,1676.1 494.4,1674.5 494.0,1672.9 493.6,1671.3 493.2,1669.7 492.8,1668.1 492.3,1666.5 491.8,1664.9 491.3,1663.3 490.8,1661.7 490.2,1660.1 489.7,1658.5 489.1,1656.9 488.5,1655.3 488.0,1653.7 487.5,1652.1 486.9,1650.5 486.5,1648.9 486.0,1647.3 485.6,1645.7 485.2,1644.1 484.9,1642.5 484.7,1640.9 484.5,1639.3 484.3,1637.7 484.3,1636.1 484.3,1634.5 484.3,1632.8 484.5,1631.2 484.7,1629.6 484.9,1628.0 485.2,1626.4 485.6,1624.8 486.0,1623.2 486.5,1621.6 486.9,1620.0 487.5,1618.4 488.0,1616.8 488.5,1615.2 489.1,1613.6 489.7,1612.0 490.2,1610.4 490.8,1608.8 491.3,1607.2 491.8,1605.6 492.3,1604.0 492.8,1602.4 493.2,1600.8 493.6,1599.2 494.0,1597.6 494.4,1596.0 494.7,1594.4 495.0,1592.8 495.3,1591.2 495.5,1589.6 495.7,1588.0 495.9,1586.4 496.1,1584.8 496.2,1583.2 496.3,1581.6 496.5,1580.0 496.5,1578.4 496.6,1576.8 496.7,1575.2 496.8,1573.6 496.8,1572.0 496.8,1570.4 496.9,1568.8 497.2,1568.8 497.2,1570.4 497.2,1572.0 497.3,1573.6 497.3,1575.2 497.4,1576.8 497.5,1578.4 497.6,1580.0 497.7,1581.6 497.8,1583.2 498.0,1584.8 498.1,1586.4 498.3,1588.0 498.5,1589.6 498.8,1591.2 499.1,1592.8 499.4,1594.4 499.7,1596.0 500.0,1597.6 500.4,1599.2 500.8,1600.8 501.3,1602.4 501.7,1604.0 502.2,1605.6 502.7,1607.2 503.3,1608.8 503.8,1610.4 504.4,1612.0 504.9,1613.6 505.5,1615.2 506.0,1616.8 506.6,1618.4 507.1,1620.0 507.6,1621.6 508.0,1623.2 508.4,1624.8 508.8,1626.4 509.1,1628.0 509.4,1629.6 509.6,1631.2 509.7,1632.8 509.8,1634.5 509.8,1636.1 509.7,1637.7 509.6,1639.3 509.4,1640.9 509.1,1642.5 508.8,1644.1 508.4,1645.7 508.0,1647.3 507.6,1648.9 507.1,1650.5 506.6,1652.1 506.0,1653.7 505.5,1655.3 504.9,1656.9 504.4,1658.5 503.8,1660.1 503.3,1661.7 502.8,1663.3 502.2,1664.9 501.7,1666.5 501.3,1668.1 500.8,1669.7 500.4,1671.3 500.0,1672.9 499.7,1674.5 499.4,1676.1 499.1,1677.7 498.8,1679.3 498.6,1680.9 498.4,1682.5 498.2,1684.1 498.0,1685.7 497.9,1687.3 497.8,1688.9 497.7,1690.5 497.6,1692.1 497.6,1693.7 497.5,1695.3 497.5,1696.9 497.5,1698.5 497.5,1700.1 497.6,1701.7 497.6,1703.3 497.7,1704.9 497.8,1706.5 497.9,1708.1 498.1,1709.7 498.3,1711.3 498.4,1712.9 498.7,1714.5 498.9,1716.1 499.2,1717.7 499.5,1719.3 499.8,1720.9 500.2,1722.5 500.6,1724.1 501.0,1725.7 501.5,1727.3 502.0,1728.9 502.5,1730.5 503.0,1732.1 503.6,1733.7 504.1,1735.3 504.7,1736.9 505.3,1738.5 505.9,1740.1 506.5,1741.7 507.1,1743.3 507.7,1744.9 508.2,1746.5 508.7,1748.1 509.3,1749.7 509.7,1751.3 510.2,1752.9 510.6,1754.5 511.0,1756.2 511.4,1757.8 511.8,1759.4 512.1,1761.0 512.4,1762.6 512.7,1764.2 513.0,1765.8 513.3,1767.4 513.7,1769.0 514.0,1770.6 514.4,1772.2 514.8,1773.8 515.3,1775.4 515.9,1777.0 516.5,1778.6 517.2,1780.2 517.9,1781.8 518.8,1783.4 519.7,1785.0 520.7,1786.6 521.8,1788.2 522.9,1789.8 524.2,1791.4 525.5,1793.0 526.9,1794.6 528.3,1796.2 529.7,1797.8 531.2,1799.4 532.7,1801.0 534.2,1802.6 535.7,1804.2 537.1,1805.8 538.5,1807.4 539.8,1809.0 541.1,1810.6 542.3,1812.2 543.3,1813.8 544.3,1815.4 545.1,1817.0 545.9,1818.6 546.5,1820.2 546.9,1821.8 547.2,1823.4 547.4,1825.0 547.4,1826.6 547.3,1828.2 547.0,1829.8 546.6,1831.4 546.0,1833.0 545.3,1834.6 544.5,1836.2 543.6,1837.8 542.5,1839.4 541.4,1841.0 540.1,1842.6 538.8,1844.2 537.3,1845.8 535.8,1847.4 534.3,1849.0 532.7,1850.6 531.1,1852.2 529.4,1853.8 527.7,1855.4 526.0,1857.0 524.4,1858.6 522.7,1860.2 521.0,1861.8 519.4,1863.4 517.8,1865.0 516.3,1866.6 514.8,1868.2 513.4,1869.8 512.0,1871.4 510.7,1873.0 509.5,1874.6 508.3,1876.3 507.2,1877.9 506.2,1879.5 505.2,1881.1 504.3,1882.7 503.5,1884.3 502.7,1885.9 502.1,1887.5 501.4,1889.1 500.9,1890.7 500.4,1892.3 499.9,1893.9 499.5,1895.5 499.2,1897.1 498.8,1898.7 498.6,1900.3 498.3,1901.9 498.1,1903.5 497.9,1905.1 497.8,1906.7 497.7,1908.3 497.6,1909.9 497.5,1911.5 497.4,1913.1 497.3,1914.7 497.3,1916.3 497.2,1917.9 497.2,1919.5Z" fill="#6274c1" stroke="#000" stroke-width="2.7" stroke-linejoin="round"/>
<g stroke="#333" stroke-width="2.5" fill="none">
<line x1="497.02" y1="1759.50" x2="497.02" y2="1783.59"/>
<line x1="497.02" y1="1832.27" x2="497.02" y2="1853.02"/>
<rect x="491.57" y="1783.59" width="10.90" height="48.68" fill="#bfbfbf" stroke-linejoin="round"/>
<line x1="491.57" y1="1812.84" x2="502.47" y2="1812.84" stroke-width="5"/>
</g>
<circle cx="497.02" cy="1635.26" r="3.5" fill="#333"/>
<g fill="#e0301e"><circle cx="496.50" cy="1635.26" r="3.7"/><circle cx="491.50" cy="1759.50" r="3.7"/><circle cx="495.80" cy="1807.69" r="3.7"/><circle cx="495.00" cy="1812.84" r="3.7"/><circle cx="496.10" cy="1830.53" r="3.7"/><circle cx="494.10" cy="1834.01" r="3.7"/><circle cx="492.60" cy="1853.02" r="3.7"/></g>
<path d="M608.8,1913.4 608.7,1911.8 608.7,1910.1 608.6,1908.5 608.5,1906.8 608.4,1905.2 608.3,1903.5 608.1,1901.9 608.0,1900.2 607.8,1898.6 607.5,1896.9 607.2,1895.3 606.9,1893.6 606.5,1892.0 606.0,1890.3 605.5,1888.7 604.9,1887.0 604.3,1885.4 603.5,1883.7 602.7,1882.1 601.8,1880.4 600.8,1878.8 599.7,1877.1 598.4,1875.5 597.1,1873.8 595.7,1872.2 594.2,1870.5 592.7,1868.9 591.0,1867.2 589.2,1865.6 587.4,1863.9 585.5,1862.3 583.6,1860.6 581.6,1859.0 579.6,1857.3 577.6,1855.7 575.6,1854.0 573.7,1852.4 571.8,1850.7 569.9,1849.1 568.2,1847.4 566.5,1845.8 565.0,1844.1 563.6,1842.5 562.3,1840.8 561.2,1839.2 560.3,1837.5 559.6,1835.9 559.0,1834.2 558.7,1832.6 558.6,1830.9 558.7,1829.3 559.0,1827.6 559.4,1826.0 560.1,1824.3 561.0,1822.7 562.0,1821.0 563.2,1819.4 564.6,1817.7 566.0,1816.1 567.6,1814.4 569.3,1812.8 571.0,1811.1 572.8,1809.5 574.6,1807.8 576.4,1806.2 578.2,1804.5 580.0,1802.9 581.7,1801.2 583.4,1799.6 584.9,1797.9 586.4,1796.3 587.8,1794.6 589.0,1792.9 590.2,1791.3 591.2,1789.6 592.1,1788.0 592.9,1786.3 593.5,1784.7 594.1,1783.0 594.6,1781.4 594.9,1779.7 595.2,1778.1 595.4,1776.4 595.6,1774.8 595.7,1773.1 595.8,1771.5 595.9,1769.8 595.9,1768.2 596.0,1766.5 596.1,1764.9 596.2,1763.2 596.3,1761.6 596.5,1759.9 596.7,1758.3 597.0,1756.6 597.3,1755.0 597.6,1753.3 598.0,1751.7 598.5,1750.0 598.9,1748.4 599.4,1746.7 599.9,1745.1 600.5,1743.4 601.0,1741.8 601.6,1740.1 602.1,1738.5 602.7,1736.8 603.2,1735.2 603.7,1733.5 604.2,1731.9 604.7,1730.2 605.2,1728.6 605.6,1726.9 606.0,1725.3 606.3,1723.6 606.7,1722.0 607.0,1720.3 607.3,1718.7 607.5,1717.0 607.7,1715.4 607.9,1713.7 608.1,1712.1 608.2,1710.4 608.3,1708.8 608.4,1707.1 608.5,1705.5 608.6,1703.8 608.7,1702.2 608.7,1700.5 608.8,1698.9 608.8,1697.2 608.8,1695.6 608.8,1693.9 608.9,1692.3 608.9,1690.6 608.9,1689.0 608.9,1687.3 608.9,1685.7 608.8,1684.0 608.8,1682.4 608.8,1680.7 608.8,1679.1 608.7,1677.4 608.7,1675.8 608.6,1674.1 608.5,1672.5 608.5,1670.8 608.3,1669.2 608.2,1667.5 608.1,1665.9 607.9,1664.2 607.7,1662.6 607.5,1660.9 607.3,1659.3 607.0,1657.6 606.7,1656.0 606.4,1654.3 606.0,1652.7 605.7,1651.0 605.2,1649.4 604.8,1647.7 604.3,1646.1 603.8,1644.4 603.3,1642.8 602.8,1641.1 602.2,1639.5 601.7,1637.8 601.2,1636.2 600.6,1634.5 600.1,1632.9 599.6,1631.2 599.1,1629.6 598.7,1627.9 598.3,1626.3 598.0,1624.6 597.7,1623.0 597.5,1621.3 597.3,1619.7 597.3,1618.0 597.2,1616.4 597.3,1614.7 597.4,1613.1 597.6,1611.4 597.8,1609.8 598.1,1608.1 598.5,1606.5 598.9,1604.8 599.3,1603.2 599.8,1601.5 600.3,1599.9 600.8,1598.2 601.4,1596.6 601.9,1594.9 602.5,1593.3 603.0,1591.6 603.5,1590.0 604.0,1588.3 604.5,1586.7 605.0,1585.0 605.4,1583.4 605.8,1581.7 606.2,1580.1 606.5,1578.4 606.9,1576.8 607.1,1575.1 607.4,1573.5 607.6,1571.8 607.8,1570.2 608.0,1568.5 608.1,1566.9 608.3,1565.2 608.4,1563.6 608.5,1561.9 608.6,1560.3 608.6,1558.6 608.7,1557.0 608.8,1555.3 608.8,1553.7 608.8,1552.0 609.1,1552.0 609.1,1553.7 609.2,1555.3 609.2,1557.0 609.3,1558.6 609.3,1560.3 609.4,1561.9 609.5,1563.6 609.6,1565.2 609.8,1566.9 609.9,1568.5 610.1,1570.2 610.3,1571.8 610.5,1573.5 610.8,1575.1 611.1,1576.8 611.4,1578.4 611.7,1580.1 612.1,1581.7 612.5,1583.4 612.9,1585.0 613.4,1586.7 613.9,1588.3 614.4,1590.0 614.9,1591.6 615.5,1593.3 616.0,1594.9 616.5,1596.6 617.1,1598.2 617.6,1599.9 618.1,1601.5 618.6,1603.2 619.0,1604.8 619.4,1606.5 619.8,1608.1 620.1,1609.8 620.3,1611.4 620.5,1613.1 620.6,1614.7 620.7,1616.4 620.7,1618.0 620.6,1619.7 620.4,1621.3 620.2,1623.0 619.9,1624.6 619.6,1626.3 619.2,1627.9 618.8,1629.6 618.3,1631.2 617.8,1632.9 617.3,1634.5 616.8,1636.2 616.2,1637.8 615.7,1639.5 615.1,1641.1 614.6,1642.8 614.1,1644.4 613.6,1646.1 613.1,1647.7 612.7,1649.4 612.3,1651.0 611.9,1652.7 611.5,1654.3 611.2,1656.0 610.9,1657.6 610.6,1659.3 610.4,1660.9 610.2,1662.6 610.0,1664.2 609.8,1665.9 609.7,1667.5 609.6,1669.2 609.5,1670.8 609.4,1672.5 609.3,1674.1 609.2,1675.8 609.2,1677.4 609.1,1679.1 609.1,1680.7 609.1,1682.4 609.1,1684.0 609.1,1685.7 609.0,1687.3 609.0,1689.0 609.1,1690.6 609.1,1692.3 609.1,1693.9 609.1,1695.6 609.1,1697.2 609.2,1698.9 609.2,1700.5 609.2,1702.2 609.3,1703.8 609.4,1705.5 609.5,1707.1 609.6,1708.8 609.7,1710.4 609.9,1712.1 610.0,1713.7 610.2,1715.4 610.4,1717.0 610.7,1718.7 610.9,1720.3 611.2,1722.0 611.6,1723.6 611.9,1725.3 612.3,1726.9 612.7,1728.6 613.2,1730.2 613.7,1731.9 614.2,1733.5 614.7,1735.2 615.2,1736.8 615.8,1738.5 616.3,1740.1 616.9,1741.8 617.4,1743.4 618.0,1745.1 618.5,1746.7 619.0,1748.4 619.5,1750.0 619.9,1751.7 620.3,1753.3 620.6,1755.0 620.9,1756.6 621.2,1758.3 621.4,1759.9 621.6,1761.6 621.7,1763.2 621.8,1764.9 621.9,1766.5 622.0,1768.2 622.1,1769.8 622.1,1771.5 622.2,1773.1 622.3,1774.8 622.5,1776.4 622.7,1778.1 623.0,1779.7 623.4,1781.4 623.8,1783.0 624.4,1784.7 625.0,1786.3 625.8,1788.0 626.7,1789.6 627.7,1791.3 628.9,1792.9 630.1,1794.6 631.5,1796.3 633.0,1797.9 634.5,1799.6 636.2,1801.2 637.9,1802.9 639.7,1804.5 641.5,1806.2 643.3,1807.8 645.1,1809.5 646.9,1811.1 648.6,1812.8 650.3,1814.4 651.9,1816.1 653.4,1817.7 654.7,1819.4 655.9,1821.0 656.9,1822.7 657.8,1824.3 658.5,1826.0 659.0,1827.6 659.3,1829.3 659.3,1830.9 659.2,1832.6 658.9,1834.2 658.3,1835.9 657.6,1837.5 656.7,1839.2 655.6,1840.8 654.4,1842.5 653.0,1844.1 651.4,1845.8 649.8,1847.4 648.0,1849.1 646.2,1850.7 644.2,1852.4 642.3,1854.0 640.3,1855.7 638.3,1857.3 636.3,1859.0 634.3,1860.6 632.4,1862.3 630.5,1863.9 628.7,1865.6 626.9,1867.2 625.3,1868.9 623.7,1870.5 622.2,1872.2 620.8,1873.8 619.5,1875.5 618.3,1877.1 617.2,1878.8 616.2,1880.4 615.2,1882.1 614.4,1883.7 613.7,1885.4 613.0,1887.0 612.4,1888.7 611.9,1890.3 611.4,1892.0 611.0,1893.6 610.7,1895.3 610.4,1896.9 610.2,1898.6 610.0,1900.2 609.8,1901.9 609.6,1903.5 609.5,1905.2 609.4,1906.8 609.3,1908.5 609.2,1910.1 609.2,1911.8 609.1,1913.4Z" fill="#6376c2" stroke="#000" stroke-width="2.7" stroke-linejoin="round"/>
<g stroke="#333" stroke-width="2.5" fill="none">
<line x1="608.96" y1="1761.03" x2="608.96" y2="1787.81"/>
<line x1="608.96" y1="1835.20" x2="608.96" y2="1848.71"/>
<rect x="603.51" y="1787.81" width="10.90" height="47.39" fill="#bfbfbf" stroke-linejoin="round"/>
<line x1="603.51" y1="1821.69" x2="614.41" y2="1821.69" stroke-width="5"/>
</g>
<circle cx="608.96" cy="1616.73" r="3.5" fill="#333"/>
<g fill="#e0301e"><circle cx="603.80" cy="1616.73" r="3.7"/><circle cx="607.10" cy="1761.03" r="3.7"/><circle cx="602.70" cy="1814.58" r="3.7"/><circle cx="606.40" cy="1821.69" r="3.7"/><circle cx="602.50" cy="1830.53" r="3.7"/><circle cx="602.70" cy="1839.86" r="3.7"/><circle cx="608.60" cy="1848.71" r="3.7"/></g>
<path d="M720.7,1899.8 720.7,1898.3 720.6,1896.9 720.6,1895.5 720.5,1894.1 720.4,1892.7 720.3,1891.2 720.1,1889.8 720.0,1888.4 719.8,1887.0 719.6,1885.6 719.3,1884.2 719.0,1882.7 718.7,1881.3 718.3,1879.9 717.8,1878.5 717.3,1877.1 716.7,1875.6 716.1,1874.2 715.4,1872.8 714.6,1871.4 713.7,1870.0 712.8,1868.6 711.7,1867.1 710.6,1865.7 709.4,1864.3 708.1,1862.9 706.7,1861.5 705.2,1860.1 703.7,1858.6 702.1,1857.2 700.4,1855.8 698.7,1854.4 696.9,1853.0 695.1,1851.5 693.2,1850.1 691.4,1848.7 689.5,1847.3 687.7,1845.9 685.9,1844.5 684.1,1843.0 682.4,1841.6 680.8,1840.2 679.3,1838.8 677.8,1837.4 676.5,1835.9 675.2,1834.5 674.1,1833.1 673.2,1831.7 672.4,1830.3 671.7,1828.9 671.2,1827.4 670.8,1826.0 670.6,1824.6 670.5,1823.2 670.6,1821.8 670.9,1820.3 671.2,1818.9 671.8,1817.5 672.4,1816.1 673.2,1814.7 674.1,1813.3 675.1,1811.8 676.2,1810.4 677.3,1809.0 678.5,1807.6 679.8,1806.2 681.1,1804.8 682.5,1803.3 683.8,1801.9 685.2,1800.5 686.6,1799.1 687.9,1797.7 689.2,1796.2 690.5,1794.8 691.7,1793.4 692.9,1792.0 694.0,1790.6 695.0,1789.2 696.0,1787.7 697.0,1786.3 697.8,1784.9 698.6,1783.5 699.4,1782.1 700.1,1780.6 700.8,1779.2 701.4,1777.8 702.0,1776.4 702.5,1775.0 703.1,1773.6 703.6,1772.1 704.1,1770.7 704.7,1769.3 705.2,1767.9 705.8,1766.5 706.3,1765.0 706.9,1763.6 707.5,1762.2 708.1,1760.8 708.7,1759.4 709.3,1758.0 710.0,1756.5 710.6,1755.1 711.3,1753.7 711.9,1752.3 712.6,1750.9 713.2,1749.5 713.8,1748.0 714.4,1746.6 715.0,1745.2 715.6,1743.8 716.1,1742.4 716.6,1740.9 717.0,1739.5 717.5,1738.1 717.9,1736.7 718.2,1735.3 718.6,1733.9 718.9,1732.4 719.2,1731.0 719.4,1729.6 719.6,1728.2 719.8,1726.8 720.0,1725.3 720.1,1723.9 720.2,1722.5 720.3,1721.1 720.4,1719.7 720.5,1718.3 720.6,1716.8 720.6,1715.4 720.7,1714.0 720.7,1712.6 720.7,1711.2 720.7,1709.8 720.7,1708.3 720.7,1706.9 720.7,1705.5 720.7,1704.1 720.7,1702.7 720.7,1701.2 720.6,1699.8 720.6,1698.4 720.5,1697.0 720.4,1695.6 720.3,1694.2 720.2,1692.7 720.1,1691.3 719.9,1689.9 719.7,1688.5 719.5,1687.1 719.3,1685.6 719.0,1684.2 718.8,1682.8 718.4,1681.4 718.1,1680.0 717.7,1678.6 717.3,1677.1 716.9,1675.7 716.4,1674.3 715.9,1672.9 715.4,1671.5 714.9,1670.0 714.3,1668.6 713.8,1667.2 713.2,1665.8 712.7,1664.4 712.1,1663.0 711.6,1661.5 711.0,1660.1 710.5,1658.7 710.1,1657.3 709.7,1655.9 709.3,1654.5 709.0,1653.0 708.7,1651.6 708.5,1650.2 708.4,1648.8 708.3,1647.4 708.3,1645.9 708.4,1644.5 708.5,1643.1 708.7,1641.7 709.0,1640.3 709.3,1638.9 709.7,1637.4 710.1,1636.0 710.6,1634.6 711.1,1633.2 711.6,1631.8 712.2,1630.3 712.7,1628.9 713.3,1627.5 713.9,1626.1 714.4,1624.7 715.0,1623.3 715.5,1621.8 716.0,1620.4 716.5,1619.0 716.9,1617.6 717.4,1616.2 717.8,1614.7 718.1,1613.3 718.5,1611.9 718.8,1610.5 719.1,1609.1 719.3,1607.7 719.5,1606.2 719.7,1604.8 719.9,1603.4 720.1,1602.0 720.2,1600.6 720.3,1599.2 720.4,1597.7 720.5,1596.3 720.6,1594.9 720.6,1593.5 720.7,1592.1 720.7,1590.6 720.8,1589.2 721.0,1589.2 721.1,1590.6 721.1,1592.1 721.2,1593.5 721.2,1594.9 721.3,1596.3 721.4,1597.7 721.5,1599.2 721.6,1600.6 721.7,1602.0 721.9,1603.4 722.1,1604.8 722.3,1606.2 722.5,1607.7 722.7,1609.1 723.0,1610.5 723.3,1611.9 723.7,1613.3 724.0,1614.7 724.4,1616.2 724.9,1617.6 725.3,1619.0 725.8,1620.4 726.3,1621.8 726.8,1623.3 727.4,1624.7 727.9,1626.1 728.5,1627.5 729.1,1628.9 729.6,1630.3 730.2,1631.8 730.7,1633.2 731.2,1634.6 731.7,1636.0 732.1,1637.4 732.5,1638.9 732.8,1640.3 733.1,1641.7 733.3,1643.1 733.4,1644.5 733.5,1645.9 733.5,1647.4 733.4,1648.8 733.3,1650.2 733.1,1651.6 732.8,1653.0 732.5,1654.5 732.1,1655.9 731.7,1657.3 731.3,1658.7 730.8,1660.1 730.2,1661.5 729.7,1663.0 729.1,1664.4 728.6,1665.8 728.0,1667.2 727.5,1668.6 726.9,1670.0 726.4,1671.5 725.9,1672.9 725.4,1674.3 724.9,1675.7 724.5,1677.1 724.1,1678.6 723.7,1680.0 723.4,1681.4 723.0,1682.8 722.8,1684.2 722.5,1685.6 722.3,1687.1 722.1,1688.5 721.9,1689.9 721.7,1691.3 721.6,1692.7 721.5,1694.2 721.4,1695.6 721.3,1697.0 721.2,1698.4 721.2,1699.8 721.1,1701.2 721.1,1702.7 721.1,1704.1 721.1,1705.5 721.1,1706.9 721.1,1708.3 721.1,1709.8 721.1,1711.2 721.1,1712.6 721.1,1714.0 721.2,1715.4 721.2,1716.8 721.3,1718.3 721.4,1719.7 721.5,1721.1 721.6,1722.5 721.7,1723.9 721.8,1725.3 722.0,1726.8 722.2,1728.2 722.4,1729.6 722.6,1731.0 722.9,1732.4 723.2,1733.9 723.6,1735.3 723.9,1736.7 724.3,1738.1 724.8,1739.5 725.2,1740.9 725.7,1742.4 726.2,1743.8 726.8,1745.2 727.4,1746.6 728.0,1748.0 728.6,1749.5 729.2,1750.9 729.9,1752.3 730.5,1753.7 731.2,1755.1 731.8,1756.5 732.5,1758.0 733.1,1759.4 733.7,1760.8 734.3,1762.2 734.9,1763.6 735.5,1765.0 736.0,1766.5 736.6,1767.9 737.1,1769.3 737.7,1770.7 738.2,1772.1 738.7,1773.6 739.3,1775.0 739.8,1776.4 740.4,1777.8 741.0,1779.2 741.7,1780.6 742.4,1782.1 743.2,1783.5 744.0,1784.9 744.8,1786.3 745.8,1787.7 746.8,1789.2 747.8,1790.6 748.9,1792.0 750.1,1793.4 751.3,1794.8 752.6,1796.2 753.9,1797.7 755.2,1799.1 756.6,1800.5 758.0,1801.9 759.3,1803.3 760.7,1804.8 762.0,1806.2 763.3,1807.6 764.5,1809.0 765.6,1810.4 766.7,1811.8 767.7,1813.3 768.6,1814.7 769.4,1816.1 770.0,1817.5 770.6,1818.9 770.9,1820.3 771.2,1821.8 771.3,1823.2 771.2,1824.6 771.0,1826.0 770.6,1827.4 770.1,1828.9 769.4,1830.3 768.6,1831.7 767.7,1833.1 766.6,1834.5 765.3,1835.9 764.0,1837.4 762.5,1838.8 761.0,1840.2 759.4,1841.6 757.7,1843.0 755.9,1844.5 754.1,1845.9 752.3,1847.3 750.4,1848.7 748.6,1850.1 746.7,1851.5 744.9,1853.0 743.1,1854.4 741.4,1855.8 739.7,1857.2 738.1,1858.6 736.6,1860.1 735.1,1861.5 733.7,1862.9 732.4,1864.3 731.2,1865.7 730.1,1867.1 729.0,1868.6 728.1,1870.0 727.2,1871.4 726.4,1872.8 725.7,1874.2 725.1,1875.6 724.5,1877.1 724.0,1878.5 723.5,1879.9 723.1,1881.3 722.8,1882.7 722.5,1884.2 722.2,1885.6 722.0,1887.0 721.8,1888.4 721.7,1889.8 721.5,1891.2 721.4,1892.7 721.3,1894.1 721.2,1895.5 721.2,1896.9 721.1,1898.3 721.1,1899.8Z" fill="#6578c3" stroke="#000" stroke-width="2.7" stroke-linejoin="round"/>
<g stroke="#333" stroke-width="2.5" fill="none">
<line x1="720.90" y1="1769.18" x2="720.90" y2="1786.48"/>
<line x1="720.90" y1="1828.61" x2="720.90" y2="1842.23"/>
<rect x="715.45" y="1786.48" width="10.90" height="42.13" fill="#bfbfbf" stroke-linejoin="round"/>
<line x1="715.45" y1="1813.26" x2="726.35" y2="1813.26" stroke-width="5"/>
</g>
<circle cx="720.90" cy="1646.75" r="3.5" fill="#333"/>
<g fill="#e0301e"><circle cx="717.90" cy="1646.75" r="3.7"/><circle cx="719.60" cy="1769.18" r="3.7"/><circle cx="715.50" cy="1803.79" r="3.7"/><circle cx="717.20" cy="1813.26" r="3.7"/><circle cx="722.90" cy="1825.59" r="3.7"/><circle cx="714.20" cy="1831.64" r="3.7"/><circle cx="714.40" cy="1842.23" r="3.7"/></g>
<path d="M832.7,1914.0 832.6,1912.3 832.6,1910.6 832.5,1908.8 832.4,1907.1 832.3,1905.4 832.2,1903.7 832.0,1902.0 831.9,1900.2 831.6,1898.5 831.4,1896.8 831.0,1895.1 830.7,1893.4 830.2,1891.6 829.7,1889.9 829.2,1888.2 828.5,1886.5 827.7,1884.8 826.9,1883.0 825.9,1881.3 824.9,1879.6 823.7,1877.9 822.4,1876.2 821.0,1874.4 819.5,1872.7 817.8,1871.0 816.1,1869.3 814.2,1867.6 812.3,1865.8 810.3,1864.1 808.2,1862.4 806.0,1860.7 803.8,1859.0 801.6,1857.2 799.4,1855.5 797.3,1853.8 795.2,1852.1 793.2,1850.4 791.3,1848.6 789.5,1846.9 787.9,1845.2 786.4,1843.5 785.2,1841.8 784.2,1840.0 783.4,1838.3 782.8,1836.6 782.5,1834.9 782.5,1833.2 782.7,1831.4 783.1,1829.7 783.8,1828.0 784.6,1826.3 785.7,1824.6 787.0,1822.8 788.5,1821.1 790.0,1819.4 791.7,1817.7 793.5,1816.0 795.4,1814.2 797.3,1812.5 799.2,1810.8 801.0,1809.1 802.9,1807.4 804.7,1805.7 806.4,1803.9 808.0,1802.2 809.6,1800.5 811.0,1798.8 812.3,1797.1 813.4,1795.3 814.4,1793.6 815.3,1791.9 816.1,1790.2 816.8,1788.5 817.3,1786.7 817.8,1785.0 818.1,1783.3 818.4,1781.6 818.6,1779.9 818.8,1778.1 818.9,1776.4 819.0,1774.7 819.2,1773.0 819.3,1771.3 819.4,1769.5 819.6,1767.8 819.8,1766.1 820.1,1764.4 820.4,1762.7 820.8,1760.9 821.2,1759.2 821.6,1757.5 822.1,1755.8 822.7,1754.1 823.3,1752.3 823.8,1750.6 824.5,1748.9 825.1,1747.2 825.7,1745.5 826.3,1743.7 826.9,1742.0 827.5,1740.3 828.1,1738.6 828.6,1736.9 829.1,1735.1 829.5,1733.4 830.0,1731.7 830.3,1730.0 830.7,1728.3 831.0,1726.5 831.3,1724.8 831.5,1723.1 831.7,1721.4 831.9,1719.7 832.1,1717.9 832.2,1716.2 832.3,1714.5 832.4,1712.8 832.5,1711.1 832.6,1709.3 832.6,1707.6 832.7,1705.9 832.7,1704.2 832.7,1702.5 832.8,1700.8 832.8,1699.0 832.8,1697.3 832.8,1695.6 832.8,1693.9 832.8,1692.2 832.8,1690.4 832.8,1688.7 832.8,1687.0 832.8,1685.3 832.8,1683.6 832.8,1681.8 832.8,1680.1 832.8,1678.4 832.8,1676.7 832.8,1675.0 832.8,1673.2 832.8,1671.5 832.8,1669.8 832.8,1668.1 832.8,1666.4 832.8,1664.6 832.7,1662.9 832.7,1661.2 832.7,1659.5 832.6,1657.8 832.6,1656.0 832.5,1654.3 832.4,1652.6 832.3,1650.9 832.2,1649.2 832.1,1647.4 831.9,1645.7 831.7,1644.0 831.5,1642.3 831.3,1640.6 831.0,1638.8 830.7,1637.1 830.3,1635.4 829.9,1633.7 829.5,1632.0 829.0,1630.2 828.5,1628.5 828.0,1626.8 827.5,1625.1 826.9,1623.4 826.3,1621.6 825.7,1619.9 825.1,1618.2 824.5,1616.5 823.9,1614.8 823.4,1613.0 822.9,1611.3 822.4,1609.6 822.0,1607.9 821.6,1606.2 821.4,1604.4 821.2,1602.7 821.0,1601.0 821.0,1599.3 821.0,1597.6 821.1,1595.9 821.3,1594.1 821.6,1592.4 821.9,1590.7 822.4,1589.0 822.8,1587.3 823.3,1585.5 823.9,1583.8 824.4,1582.1 825.0,1580.4 825.6,1578.7 826.2,1576.9 826.8,1575.2 827.4,1573.5 827.9,1571.8 828.5,1570.1 829.0,1568.3 829.4,1566.6 829.9,1564.9 830.3,1563.2 830.6,1561.5 830.9,1559.7 831.2,1558.0 831.5,1556.3 831.7,1554.6 831.9,1552.9 832.1,1551.1 832.2,1549.4 832.3,1547.7 832.4,1546.0 832.5,1544.3 832.6,1542.5 832.6,1540.8 832.7,1539.1 832.7,1537.4 833.0,1537.4 833.0,1539.1 833.1,1540.8 833.1,1542.5 833.2,1544.3 833.3,1546.0 833.4,1547.7 833.5,1549.4 833.6,1551.1 833.8,1552.9 834.0,1554.6 834.2,1556.3 834.5,1558.0 834.7,1559.7 835.1,1561.5 835.4,1563.2 835.8,1564.9 836.2,1566.6 836.7,1568.3 837.2,1570.1 837.7,1571.8 838.3,1573.5 838.9,1575.2 839.5,1576.9 840.1,1578.7 840.7,1580.4 841.2,1582.1 841.8,1583.8 842.4,1585.5 842.9,1587.3 843.3,1589.0 843.7,1590.7 844.1,1592.4 844.3,1594.1 844.5,1595.9 844.7,1597.6 844.7,1599.3 844.7,1601.0 844.5,1602.7 844.3,1604.4 844.0,1606.2 843.7,1607.9 843.3,1609.6 842.8,1611.3 842.3,1613.0 841.7,1614.8 841.2,1616.5 840.6,1618.2 840.0,1619.9 839.4,1621.6 838.8,1623.4 838.2,1625.1 837.7,1626.8 837.1,1628.5 836.6,1630.2 836.2,1632.0 835.8,1633.7 835.4,1635.4 835.0,1637.1 834.7,1638.8 834.4,1640.6 834.2,1642.3 834.0,1644.0 833.8,1645.7 833.6,1647.4 833.5,1649.2 833.3,1650.9 833.3,1652.6 833.2,1654.3 833.1,1656.0 833.0,1657.8 833.0,1659.5 833.0,1661.2 832.9,1662.9 832.9,1664.6 832.9,1666.4 832.9,1668.1 832.9,1669.8 832.9,1671.5 832.9,1673.2 832.9,1675.0 832.9,1676.7 832.8,1678.4 832.8,1680.1 832.8,1681.8 832.8,1683.6 832.8,1685.3 832.8,1687.0 832.9,1688.7 832.9,1690.4 832.9,1692.2 832.9,1693.9 832.9,1695.6 832.9,1697.3 832.9,1699.0 832.9,1700.8 832.9,1702.5 833.0,1704.2 833.0,1705.9 833.0,1707.6 833.1,1709.3 833.2,1711.1 833.2,1712.8 833.3,1714.5 833.5,1716.2 833.6,1717.9 833.7,1719.7 833.9,1721.4 834.1,1723.1 834.4,1724.8 834.7,1726.5 835.0,1728.3 835.3,1730.0 835.7,1731.7 836.1,1733.4 836.6,1735.1 837.1,1736.9 837.6,1738.6 838.2,1740.3 838.8,1742.0 839.4,1743.7 840.0,1745.5 840.6,1747.2 841.2,1748.9 841.8,1750.6 842.4,1752.3 843.0,1754.1 843.5,1755.8 844.0,1757.5 844.5,1759.2 844.9,1760.9 845.3,1762.7 845.6,1764.4 845.8,1766.1 846.1,1767.8 846.2,1769.5 846.4,1771.3 846.5,1773.0 846.6,1774.7 846.8,1776.4 846.9,1778.1 847.1,1779.9 847.3,1781.6 847.6,1783.3 847.9,1785.0 848.4,1786.7 848.9,1788.5 849.6,1790.2 850.3,1791.9 851.2,1793.6 852.3,1795.3 853.4,1797.1 854.7,1798.8 856.1,1800.5 857.6,1802.2 859.3,1803.9 861.0,1805.7 862.8,1807.4 864.6,1809.1 866.5,1810.8 868.4,1812.5 870.3,1814.2 872.2,1816.0 873.9,1817.7 875.6,1819.4 877.2,1821.1 878.7,1822.8 879.9,1824.6 881.0,1826.3 881.9,1828.0 882.6,1829.7 883.0,1831.4 883.2,1833.2 883.2,1834.9 882.8,1836.6 882.3,1838.3 881.5,1840.0 880.5,1841.8 879.2,1843.5 877.8,1845.2 876.2,1846.9 874.4,1848.6 872.5,1850.4 870.5,1852.1 868.4,1853.8 866.2,1855.5 864.0,1857.2 861.8,1859.0 859.7,1860.7 857.5,1862.4 855.4,1864.1 853.4,1865.8 851.4,1867.6 849.6,1869.3 847.8,1871.0 846.2,1872.7 844.7,1874.4 843.3,1876.2 842.0,1877.9 840.8,1879.6 839.7,1881.3 838.8,1883.0 837.9,1884.8 837.2,1886.5 836.5,1888.2 835.9,1889.9 835.4,1891.6 835.0,1893.4 834.6,1895.1 834.3,1896.8 834.0,1898.5 833.8,1900.2 833.6,1902.0 833.5,1903.7 833.3,1905.4 833.2,1907.1 833.2,1908.8 833.1,1910.6 833.0,1912.3 833.0,1914.0Z" fill="#7082c9" stroke="#000" stroke-width="2.7" stroke-linejoin="round"/>
<g stroke="#333" stroke-width="2.5" fill="none">
<line x1="832.84" y1="1766.39" x2="832.84" y2="1789.30"/>
<line x1="832.84" y1="1834.57" x2="832.84" y2="1852.19"/>
<rect x="827.39" y="1789.30" width="10.90" height="45.27" fill="#bfbfbf" stroke-linejoin="round"/>
<line x1="827.39" y1="1832.20" x2="838.29" y2="1832.20" stroke-width="5"/>
</g>
<circle cx="832.84" cy="1599.19" r="3.5" fill="#333"/>
<g fill="#e0301e"><circle cx="835.00" cy="1599.19" r="3.7"/><circle cx="837.10" cy="1766.39" r="3.7"/><circle cx="835.80" cy="1812.21" r="3.7"/><circle cx="836.60" cy="1832.20" r="3.7"/><circle cx="837.40" cy="1834.01" r="3.7"/><circle cx="836.80" cy="1835.13" r="3.7"/><circle cx="830.20" cy="1852.19" r="3.7"/></g>
<path d="M944.5,1917.9 944.4,1916.4 944.4,1914.9 944.3,1913.3 944.2,1911.8 944.1,1910.2 944.0,1908.7 943.8,1907.2 943.7,1905.6 943.5,1904.1 943.3,1902.5 943.1,1901.0 942.8,1899.5 942.5,1897.9 942.2,1896.4 941.8,1894.8 941.4,1893.3 940.9,1891.8 940.4,1890.2 939.8,1888.7 939.2,1887.1 938.5,1885.6 937.8,1884.1 937.0,1882.5 936.1,1881.0 935.2,1879.4 934.2,1877.9 933.1,1876.4 932.0,1874.8 930.8,1873.3 929.5,1871.7 928.2,1870.2 926.8,1868.7 925.4,1867.1 923.9,1865.6 922.4,1864.0 920.8,1862.5 919.2,1861.0 917.6,1859.4 915.9,1857.9 914.3,1856.3 912.6,1854.8 911.0,1853.3 909.4,1851.7 907.8,1850.2 906.3,1848.6 904.9,1847.1 903.4,1845.6 902.1,1844.0 900.9,1842.5 899.7,1840.9 898.7,1839.4 897.7,1837.9 896.9,1836.3 896.1,1834.8 895.6,1833.3 895.1,1831.7 894.7,1830.2 894.5,1828.6 894.4,1827.1 894.4,1825.6 894.6,1824.0 894.8,1822.5 895.2,1820.9 895.7,1819.4 896.3,1817.9 896.9,1816.3 897.7,1814.8 898.5,1813.2 899.4,1811.7 900.4,1810.2 901.4,1808.6 902.4,1807.1 903.5,1805.5 904.6,1804.0 905.7,1802.5 906.8,1800.9 907.9,1799.4 909.1,1797.8 910.1,1796.3 911.2,1794.8 912.3,1793.2 913.3,1791.7 914.3,1790.1 915.3,1788.6 916.2,1787.1 917.1,1785.5 917.9,1784.0 918.7,1782.4 919.5,1780.9 920.2,1779.4 920.9,1777.8 921.6,1776.3 922.2,1774.7 922.8,1773.2 923.3,1771.7 923.9,1770.1 924.4,1768.6 924.9,1767.0 925.3,1765.5 925.8,1764.0 926.3,1762.4 926.7,1760.9 927.1,1759.3 927.6,1757.8 928.0,1756.3 928.4,1754.7 928.9,1753.2 929.3,1751.6 929.7,1750.1 930.2,1748.6 930.7,1747.0 931.1,1745.5 931.6,1743.9 932.1,1742.4 932.5,1740.9 933.0,1739.3 933.5,1737.8 934.0,1736.2 934.4,1734.7 934.9,1733.2 935.4,1731.6 935.8,1730.1 936.3,1728.5 936.7,1727.0 937.1,1725.5 937.5,1723.9 937.8,1722.4 938.1,1720.8 938.4,1719.3 938.7,1717.8 939.0,1716.2 939.2,1714.7 939.3,1713.1 939.5,1711.6 939.6,1710.1 939.6,1708.5 939.7,1707.0 939.7,1705.4 939.6,1703.9 939.5,1702.4 939.4,1700.8 939.3,1699.3 939.1,1697.7 938.9,1696.2 938.7,1694.7 938.4,1693.1 938.1,1691.6 937.8,1690.0 937.5,1688.5 937.2,1687.0 936.8,1685.4 936.5,1683.9 936.2,1682.3 935.8,1680.8 935.5,1679.3 935.2,1677.7 934.8,1676.2 934.6,1674.6 934.3,1673.1 934.0,1671.6 933.8,1670.0 933.6,1668.5 933.4,1666.9 933.3,1665.4 933.2,1663.9 933.2,1662.3 933.1,1660.8 933.2,1659.2 933.2,1657.7 933.3,1656.2 933.4,1654.6 933.6,1653.1 933.8,1651.5 934.0,1650.0 934.3,1648.5 934.6,1646.9 934.9,1645.4 935.2,1643.9 935.6,1642.3 936.0,1640.8 936.4,1639.2 936.8,1637.7 937.2,1636.2 937.6,1634.6 938.0,1633.1 938.4,1631.5 938.8,1630.0 939.2,1628.5 939.6,1626.9 939.9,1625.4 940.3,1623.8 940.6,1622.3 941.0,1620.8 941.3,1619.2 941.6,1617.7 941.9,1616.1 942.2,1614.6 942.4,1613.1 942.7,1611.5 942.9,1610.0 943.1,1608.4 943.3,1606.9 943.4,1605.4 943.6,1603.8 943.7,1602.3 943.9,1600.7 944.0,1599.2 944.1,1597.7 944.2,1596.1 944.2,1594.6 944.3,1593.0 944.4,1591.5 944.4,1590.0 944.5,1588.4 944.5,1586.9 944.6,1585.3 944.6,1583.8 944.6,1582.3 944.7,1580.7 944.9,1580.7 944.9,1582.3 945.0,1583.8 945.0,1585.3 945.0,1586.9 945.1,1588.4 945.1,1590.0 945.2,1591.5 945.2,1593.0 945.3,1594.6 945.4,1596.1 945.5,1597.7 945.6,1599.2 945.7,1600.7 945.8,1602.3 946.0,1603.8 946.1,1605.4 946.3,1606.9 946.5,1608.4 946.7,1610.0 946.9,1611.5 947.1,1613.1 947.4,1614.6 947.7,1616.1 948.0,1617.7 948.3,1619.2 948.6,1620.8 948.9,1622.3 949.3,1623.8 949.6,1625.4 950.0,1626.9 950.4,1628.5 950.8,1630.0 951.2,1631.5 951.6,1633.1 952.0,1634.6 952.4,1636.2 952.8,1637.7 953.2,1639.2 953.6,1640.8 954.0,1642.3 954.3,1643.9 954.7,1645.4 955.0,1646.9 955.3,1648.5 955.5,1650.0 955.7,1651.5 955.9,1653.1 956.1,1654.6 956.2,1656.2 956.3,1657.7 956.4,1659.2 956.4,1660.8 956.4,1662.3 956.3,1663.9 956.2,1665.4 956.1,1666.9 956.0,1668.5 955.8,1670.0 955.5,1671.6 955.3,1673.1 955.0,1674.6 954.7,1676.2 954.4,1677.7 954.1,1679.3 953.7,1680.8 953.4,1682.3 953.1,1683.9 952.7,1685.4 952.4,1687.0 952.1,1688.5 951.7,1690.0 951.4,1691.6 951.2,1693.1 950.9,1694.7 950.7,1696.2 950.5,1697.7 950.3,1699.3 950.1,1700.8 950.0,1702.4 949.9,1703.9 949.9,1705.4 949.9,1707.0 949.9,1708.5 950.0,1710.1 950.1,1711.6 950.2,1713.1 950.4,1714.7 950.6,1716.2 950.8,1717.8 951.1,1719.3 951.4,1720.8 951.7,1722.4 952.1,1723.9 952.5,1725.5 952.9,1727.0 953.3,1728.5 953.7,1730.1 954.2,1731.6 954.6,1733.2 955.1,1734.7 955.6,1736.2 956.1,1737.8 956.5,1739.3 957.0,1740.9 957.5,1742.4 958.0,1743.9 958.4,1745.5 958.9,1747.0 959.4,1748.6 959.8,1750.1 960.3,1751.6 960.7,1753.2 961.1,1754.7 961.6,1756.3 962.0,1757.8 962.4,1759.3 962.9,1760.9 963.3,1762.4 963.8,1764.0 964.2,1765.5 964.7,1767.0 965.2,1768.6 965.7,1770.1 966.2,1771.7 966.8,1773.2 967.4,1774.7 968.0,1776.3 968.7,1777.8 969.3,1779.4 970.1,1780.9 970.8,1782.4 971.6,1784.0 972.5,1785.5 973.4,1787.1 974.3,1788.6 975.3,1790.1 976.3,1791.7 977.3,1793.2 978.3,1794.8 979.4,1796.3 980.5,1797.8 981.6,1799.4 982.7,1800.9 983.9,1802.5 985.0,1804.0 986.1,1805.5 987.1,1807.1 988.2,1808.6 989.2,1810.2 990.1,1811.7 991.0,1813.2 991.9,1814.8 992.6,1816.3 993.3,1817.9 993.9,1819.4 994.3,1820.9 994.7,1822.5 995.0,1824.0 995.1,1825.6 995.2,1827.1 995.1,1828.6 994.8,1830.2 994.5,1831.7 994.0,1833.3 993.4,1834.8 992.7,1836.3 991.9,1837.9 990.9,1839.4 989.8,1840.9 988.7,1842.5 987.4,1844.0 986.1,1845.6 984.7,1847.1 983.2,1848.6 981.7,1850.2 980.1,1851.7 978.5,1853.3 976.9,1854.8 975.3,1856.3 973.6,1857.9 972.0,1859.4 970.4,1861.0 968.8,1862.5 967.2,1864.0 965.7,1865.6 964.2,1867.1 962.7,1868.7 961.4,1870.2 960.0,1871.7 958.8,1873.3 957.6,1874.8 956.4,1876.4 955.4,1877.9 954.4,1879.4 953.5,1881.0 952.6,1882.5 951.8,1884.1 951.0,1885.6 950.4,1887.1 949.7,1888.7 949.2,1890.2 948.7,1891.8 948.2,1893.3 947.8,1894.8 947.4,1896.4 947.1,1897.9 946.8,1899.5 946.5,1901.0 946.3,1902.5 946.1,1904.1 945.9,1905.6 945.7,1907.2 945.6,1908.7 945.5,1910.2 945.4,1911.8 945.3,1913.3 945.2,1914.9 945.1,1916.4 945.1,1917.9Z" fill="#7b8bd0" stroke="#000" stroke-width="2.7" stroke-linejoin="round"/>
<g stroke="#333" stroke-width="2.5" fill="none">
<line x1="944.78" y1="1753.44" x2="944.78" y2="1773.84"/>
<line x1="944.78" y1="1832.31" x2="944.78" y2="1838.12"/>
<rect x="939.33" y="1773.84" width="10.90" height="58.46" fill="#bfbfbf" stroke-linejoin="round"/>
<line x1="939.33" y1="1822.38" x2="950.23" y2="1822.38" stroke-width="5"/>
</g>
<circle cx="944.78" cy="1660.54" r="3.5" fill="#333"/>
<g fill="#e0301e"><circle cx="947.90" cy="1660.54" r="3.7"/><circle cx="938.00" cy="1753.44" r="3.7"/><circle cx="939.50" cy="1794.25" r="3.7"/><circle cx="946.90" cy="1822.38" r="3.7"/><circle cx="942.50" cy="1829.28" r="3.7"/><circle cx="946.40" cy="1835.33" r="3.7"/><circle cx="944.70" cy="1838.12" r="3.7"/></g>
<path d="M1056.4,1924.7 1056.3,1923.1 1056.2,1921.5 1056.1,1920.0 1056.0,1918.4 1055.9,1916.8 1055.8,1915.2 1055.6,1913.6 1055.5,1912.1 1055.3,1910.5 1055.1,1908.9 1054.8,1907.3 1054.6,1905.7 1054.3,1904.1 1053.9,1902.6 1053.6,1901.0 1053.2,1899.4 1052.7,1897.8 1052.2,1896.2 1051.7,1894.7 1051.1,1893.1 1050.5,1891.5 1049.8,1889.9 1049.1,1888.3 1048.3,1886.8 1047.4,1885.2 1046.5,1883.6 1045.5,1882.0 1044.5,1880.4 1043.4,1878.9 1042.3,1877.3 1041.1,1875.7 1039.9,1874.1 1038.6,1872.5 1037.2,1871.0 1035.9,1869.4 1034.5,1867.8 1033.0,1866.2 1031.5,1864.6 1030.0,1863.0 1028.5,1861.5 1027.0,1859.9 1025.5,1858.3 1024.0,1856.7 1022.5,1855.1 1021.0,1853.6 1019.5,1852.0 1018.1,1850.4 1016.8,1848.8 1015.5,1847.2 1014.2,1845.7 1013.1,1844.1 1012.0,1842.5 1011.0,1840.9 1010.1,1839.3 1009.2,1837.8 1008.5,1836.2 1007.9,1834.6 1007.4,1833.0 1007.0,1831.4 1006.6,1829.8 1006.4,1828.3 1006.3,1826.7 1006.4,1825.1 1006.5,1823.5 1006.7,1821.9 1007.0,1820.4 1007.4,1818.8 1007.8,1817.2 1008.4,1815.6 1009.0,1814.0 1009.7,1812.5 1010.5,1810.9 1011.3,1809.3 1012.2,1807.7 1013.1,1806.1 1014.1,1804.6 1015.0,1803.0 1016.0,1801.4 1017.0,1799.8 1018.1,1798.2 1019.1,1796.6 1020.1,1795.1 1021.1,1793.5 1022.1,1791.9 1023.1,1790.3 1024.1,1788.7 1025.0,1787.2 1025.9,1785.6 1026.8,1784.0 1027.7,1782.4 1028.5,1780.8 1029.3,1779.3 1030.1,1777.7 1030.9,1776.1 1031.6,1774.5 1032.2,1772.9 1032.9,1771.4 1033.5,1769.8 1034.1,1768.2 1034.7,1766.6 1035.3,1765.0 1035.8,1763.4 1036.3,1761.9 1036.8,1760.3 1037.3,1758.7 1037.7,1757.1 1038.2,1755.5 1038.7,1754.0 1039.1,1752.4 1039.5,1750.8 1040.0,1749.2 1040.4,1747.6 1040.8,1746.1 1041.2,1744.5 1041.7,1742.9 1042.1,1741.3 1042.5,1739.7 1042.9,1738.2 1043.3,1736.6 1043.7,1735.0 1044.1,1733.4 1044.5,1731.8 1044.9,1730.3 1045.2,1728.7 1045.6,1727.1 1045.9,1725.5 1046.2,1723.9 1046.5,1722.3 1046.7,1720.8 1047.0,1719.2 1047.2,1717.6 1047.4,1716.0 1047.6,1714.4 1047.7,1712.9 1047.8,1711.3 1047.9,1709.7 1048.0,1708.1 1048.0,1706.5 1048.0,1705.0 1047.9,1703.4 1047.9,1701.8 1047.8,1700.2 1047.7,1698.6 1047.6,1697.1 1047.4,1695.5 1047.3,1693.9 1047.1,1692.3 1046.9,1690.7 1046.7,1689.1 1046.5,1687.6 1046.3,1686.0 1046.1,1684.4 1045.9,1682.8 1045.7,1681.2 1045.6,1679.7 1045.4,1678.1 1045.3,1676.5 1045.2,1674.9 1045.1,1673.3 1045.0,1671.8 1044.9,1670.2 1044.9,1668.6 1044.9,1667.0 1045.0,1665.4 1045.0,1663.9 1045.1,1662.3 1045.3,1660.7 1045.4,1659.1 1045.6,1657.5 1045.8,1655.9 1046.0,1654.4 1046.3,1652.8 1046.6,1651.2 1046.9,1649.6 1047.2,1648.0 1047.5,1646.5 1047.9,1644.9 1048.2,1643.3 1048.6,1641.7 1049.0,1640.1 1049.3,1638.6 1049.7,1637.0 1050.1,1635.4 1050.5,1633.8 1050.9,1632.2 1051.2,1630.7 1051.6,1629.1 1051.9,1627.5 1052.3,1625.9 1052.6,1624.3 1052.9,1622.8 1053.2,1621.2 1053.5,1619.6 1053.8,1618.0 1054.0,1616.4 1054.3,1614.8 1054.5,1613.3 1054.7,1611.7 1054.9,1610.1 1055.1,1608.5 1055.2,1606.9 1055.4,1605.4 1055.5,1603.8 1055.7,1602.2 1055.8,1600.6 1055.9,1599.0 1056.0,1597.5 1056.1,1595.9 1056.2,1594.3 1056.2,1592.7 1056.3,1591.1 1056.3,1589.6 1056.4,1588.0 1056.4,1586.4 1056.5,1584.8 1056.5,1583.2 1056.5,1581.6 1056.6,1580.1 1056.6,1578.5 1056.8,1578.5 1056.9,1580.1 1056.9,1581.6 1056.9,1583.2 1057.0,1584.8 1057.0,1586.4 1057.0,1588.0 1057.1,1589.6 1057.1,1591.1 1057.2,1592.7 1057.3,1594.3 1057.4,1595.9 1057.4,1597.5 1057.5,1599.0 1057.7,1600.6 1057.8,1602.2 1057.9,1603.8 1058.0,1605.4 1058.2,1606.9 1058.4,1608.5 1058.5,1610.1 1058.7,1611.7 1059.0,1613.3 1059.2,1614.8 1059.4,1616.4 1059.7,1618.0 1059.9,1619.6 1060.2,1621.2 1060.5,1622.8 1060.8,1624.3 1061.2,1625.9 1061.5,1627.5 1061.9,1629.1 1062.2,1630.7 1062.6,1632.2 1063.0,1633.8 1063.3,1635.4 1063.7,1637.0 1064.1,1638.6 1064.5,1640.1 1064.8,1641.7 1065.2,1643.3 1065.6,1644.9 1065.9,1646.5 1066.3,1648.0 1066.6,1649.6 1066.9,1651.2 1067.2,1652.8 1067.4,1654.4 1067.6,1655.9 1067.9,1657.5 1068.0,1659.1 1068.2,1660.7 1068.3,1662.3 1068.4,1663.9 1068.5,1665.4 1068.5,1667.0 1068.5,1668.6 1068.5,1670.2 1068.5,1671.8 1068.4,1673.3 1068.3,1674.9 1068.2,1676.5 1068.0,1678.1 1067.9,1679.7 1067.7,1681.2 1067.5,1682.8 1067.3,1684.4 1067.1,1686.0 1066.9,1687.6 1066.7,1689.1 1066.5,1690.7 1066.4,1692.3 1066.2,1693.9 1066.0,1695.5 1065.9,1697.1 1065.7,1698.6 1065.6,1700.2 1065.6,1701.8 1065.5,1703.4 1065.5,1705.0 1065.5,1706.5 1065.5,1708.1 1065.5,1709.7 1065.6,1711.3 1065.7,1712.9 1065.9,1714.4 1066.0,1716.0 1066.2,1717.6 1066.4,1719.2 1066.7,1720.8 1067.0,1722.3 1067.2,1723.9 1067.6,1725.5 1067.9,1727.1 1068.2,1728.7 1068.6,1730.3 1069.0,1731.8 1069.3,1733.4 1069.7,1735.0 1070.1,1736.6 1070.5,1738.2 1070.9,1739.7 1071.4,1741.3 1071.8,1742.9 1072.2,1744.5 1072.6,1746.1 1073.0,1747.6 1073.5,1749.2 1073.9,1750.8 1074.3,1752.4 1074.8,1754.0 1075.2,1755.5 1075.7,1757.1 1076.2,1758.7 1076.6,1760.3 1077.1,1761.9 1077.7,1763.4 1078.2,1765.0 1078.7,1766.6 1079.3,1768.2 1079.9,1769.8 1080.5,1771.4 1081.2,1772.9 1081.9,1774.5 1082.6,1776.1 1083.3,1777.7 1084.1,1779.3 1084.9,1780.8 1085.7,1782.4 1086.6,1784.0 1087.5,1785.6 1088.4,1787.2 1089.4,1788.7 1090.3,1790.3 1091.3,1791.9 1092.3,1793.5 1093.3,1795.1 1094.4,1796.6 1095.4,1798.2 1096.4,1799.8 1097.4,1801.4 1098.4,1803.0 1099.4,1804.6 1100.3,1806.1 1101.2,1807.7 1102.1,1809.3 1102.9,1810.9 1103.7,1812.5 1104.4,1814.0 1105.0,1815.6 1105.6,1817.2 1106.1,1818.8 1106.5,1820.4 1106.8,1821.9 1107.0,1823.5 1107.1,1825.1 1107.1,1826.7 1107.0,1828.3 1106.8,1829.8 1106.5,1831.4 1106.1,1833.0 1105.5,1834.6 1104.9,1836.2 1104.2,1837.8 1103.4,1839.3 1102.5,1840.9 1101.4,1842.5 1100.4,1844.1 1099.2,1845.7 1098.0,1847.2 1096.7,1848.8 1095.3,1850.4 1093.9,1852.0 1092.5,1853.6 1091.0,1855.1 1089.5,1856.7 1088.0,1858.3 1086.5,1859.9 1084.9,1861.5 1083.4,1863.0 1081.9,1864.6 1080.4,1866.2 1079.0,1867.8 1077.6,1869.4 1076.2,1871.0 1074.9,1872.5 1073.6,1874.1 1072.3,1875.7 1071.1,1877.3 1070.0,1878.9 1068.9,1880.4 1067.9,1882.0 1066.9,1883.6 1066.0,1885.2 1065.2,1886.8 1064.4,1888.3 1063.6,1889.9 1063.0,1891.5 1062.3,1893.1 1061.7,1894.7 1061.2,1896.2 1060.7,1897.8 1060.3,1899.4 1059.9,1901.0 1059.5,1902.6 1059.2,1904.1 1058.9,1905.7 1058.6,1907.3 1058.4,1908.9 1058.2,1910.5 1058.0,1912.1 1057.8,1913.6 1057.7,1915.2 1057.5,1916.8 1057.4,1918.4 1057.3,1920.0 1057.2,1921.5 1057.1,1923.1 1057.1,1924.7Z" fill="#8997d6" stroke="#000" stroke-width="2.7" stroke-linejoin="round"/>
<g stroke="#333" stroke-width="2.5" fill="none">
<line x1="1056.72" y1="1748.91" x2="1056.72" y2="1770.95"/>
<line x1="1056.72" y1="1835.33" x2="1056.72" y2="1836.80"/>
<rect x="1051.27" y="1770.95" width="10.90" height="64.38" fill="#bfbfbf" stroke-linejoin="round"/>
<line x1="1051.27" y1="1817.79" x2="1062.17" y2="1817.79" stroke-width="5"/>
</g>
<circle cx="1056.72" cy="1666.39" r="3.5" fill="#333"/>
<g fill="#e0301e"><circle cx="1052.70" cy="1666.39" r="3.7"/><circle cx="1050.10" cy="1748.91" r="3.7"/><circle cx="1054.60" cy="1792.99" r="3.7"/><circle cx="1054.60" cy="1817.79" r="3.7"/><circle cx="1049.90" cy="1835.33" r="3.7"/><circle cx="1054.40" cy="1835.33" r="3.7"/><circle cx="1056.20" cy="1836.80" r="3.7"/></g>
<path d="M1168.5,1914.2 1168.4,1912.7 1168.4,1911.1 1168.3,1909.6 1168.2,1908.0 1168.1,1906.5 1168.0,1904.9 1167.8,1903.3 1167.7,1901.8 1167.4,1900.2 1167.2,1898.7 1166.9,1897.1 1166.6,1895.6 1166.2,1894.0 1165.8,1892.5 1165.3,1890.9 1164.7,1889.4 1164.1,1887.8 1163.4,1886.2 1162.7,1884.7 1161.9,1883.1 1160.9,1881.6 1160.0,1880.0 1158.9,1878.5 1157.7,1876.9 1156.5,1875.4 1155.2,1873.8 1153.8,1872.3 1152.4,1870.7 1150.9,1869.2 1149.4,1867.6 1147.8,1866.0 1146.1,1864.5 1144.5,1862.9 1142.8,1861.4 1141.1,1859.8 1139.5,1858.3 1137.8,1856.7 1136.2,1855.2 1134.6,1853.6 1133.1,1852.1 1131.7,1850.5 1130.3,1849.0 1129.0,1847.4 1127.8,1845.8 1126.7,1844.3 1125.7,1842.7 1124.8,1841.2 1124.0,1839.6 1123.3,1838.1 1122.7,1836.5 1122.2,1835.0 1121.8,1833.4 1121.4,1831.9 1121.1,1830.3 1120.9,1828.8 1120.7,1827.2 1120.6,1825.6 1120.5,1824.1 1120.3,1822.5 1120.2,1821.0 1120.1,1819.4 1119.9,1817.9 1119.8,1816.3 1119.6,1814.8 1119.4,1813.2 1119.2,1811.7 1119.0,1810.1 1118.8,1808.6 1118.6,1807.0 1118.4,1805.4 1118.3,1803.9 1118.3,1802.3 1118.3,1800.8 1118.5,1799.2 1118.7,1797.7 1119.1,1796.1 1119.6,1794.6 1120.3,1793.0 1121.1,1791.5 1122.0,1789.9 1123.2,1788.4 1124.4,1786.8 1125.8,1785.2 1127.4,1783.7 1129.1,1782.1 1130.9,1780.6 1132.7,1779.0 1134.7,1777.5 1136.7,1775.9 1138.7,1774.4 1140.7,1772.8 1142.8,1771.3 1144.8,1769.7 1146.8,1768.2 1148.7,1766.6 1150.5,1765.0 1152.3,1763.5 1154.0,1761.9 1155.5,1760.4 1157.0,1758.8 1158.4,1757.3 1159.6,1755.7 1160.7,1754.2 1161.8,1752.6 1162.7,1751.1 1163.6,1749.5 1164.3,1748.0 1165.0,1746.4 1165.5,1744.8 1166.0,1743.3 1166.5,1741.7 1166.8,1740.2 1167.2,1738.6 1167.4,1737.1 1167.6,1735.5 1167.8,1734.0 1168.0,1732.4 1168.1,1730.9 1168.2,1729.3 1168.3,1727.8 1168.4,1726.2 1168.5,1724.6 1168.5,1723.1 1168.5,1721.5 1168.6,1720.0 1168.6,1718.4 1168.6,1716.9 1168.6,1715.3 1168.6,1713.8 1168.6,1712.2 1168.6,1710.7 1168.6,1709.1 1168.6,1707.6 1168.6,1706.0 1168.6,1704.4 1168.6,1702.9 1168.6,1701.3 1168.6,1699.8 1168.6,1698.2 1168.6,1696.7 1168.5,1695.1 1168.5,1693.6 1168.5,1692.0 1168.4,1690.5 1168.3,1688.9 1168.3,1687.4 1168.2,1685.8 1168.1,1684.2 1167.9,1682.7 1167.8,1681.1 1167.6,1679.6 1167.4,1678.0 1167.1,1676.5 1166.9,1674.9 1166.6,1673.4 1166.2,1671.8 1165.8,1670.3 1165.4,1668.7 1164.9,1667.2 1164.4,1665.6 1163.8,1664.0 1163.3,1662.5 1162.6,1660.9 1162.0,1659.4 1161.3,1657.8 1160.6,1656.3 1159.8,1654.7 1159.1,1653.2 1158.4,1651.6 1157.6,1650.1 1156.9,1648.5 1156.3,1647.0 1155.6,1645.4 1155.1,1643.8 1154.5,1642.3 1154.1,1640.7 1153.7,1639.2 1153.4,1637.6 1153.2,1636.1 1153.1,1634.5 1153.1,1633.0 1153.2,1631.4 1153.4,1629.9 1153.7,1628.3 1154.0,1626.8 1154.4,1625.2 1154.9,1623.6 1155.5,1622.1 1156.1,1620.5 1156.8,1619.0 1157.5,1617.4 1158.2,1615.9 1158.9,1614.3 1159.7,1612.8 1160.4,1611.2 1161.1,1609.7 1161.8,1608.1 1162.5,1606.6 1163.1,1605.0 1163.7,1603.4 1164.3,1601.9 1164.8,1600.3 1165.3,1598.8 1165.7,1597.2 1166.1,1595.7 1166.5,1594.1 1166.8,1592.6 1167.1,1591.0 1167.3,1589.5 1167.5,1587.9 1167.7,1586.4 1167.9,1584.8 1168.0,1583.2 1168.1,1581.7 1168.2,1580.1 1168.3,1578.6 1168.4,1577.0 1168.4,1575.5 1168.5,1573.9 1168.8,1573.9 1168.9,1575.5 1168.9,1577.0 1169.0,1578.6 1169.1,1580.1 1169.2,1581.7 1169.3,1583.2 1169.4,1584.8 1169.6,1586.4 1169.8,1587.9 1170.0,1589.5 1170.2,1591.0 1170.5,1592.6 1170.8,1594.1 1171.2,1595.7 1171.6,1597.2 1172.0,1598.8 1172.5,1600.3 1173.0,1601.9 1173.6,1603.4 1174.2,1605.0 1174.8,1606.6 1175.5,1608.1 1176.2,1609.7 1176.9,1611.2 1177.6,1612.8 1178.4,1614.3 1179.1,1615.9 1179.8,1617.4 1180.5,1619.0 1181.2,1620.5 1181.8,1622.1 1182.4,1623.6 1182.9,1625.2 1183.3,1626.8 1183.7,1628.3 1183.9,1629.9 1184.1,1631.4 1184.2,1633.0 1184.2,1634.5 1184.1,1636.1 1183.9,1637.6 1183.6,1639.2 1183.2,1640.7 1182.8,1642.3 1182.3,1643.8 1181.7,1645.4 1181.1,1647.0 1180.4,1648.5 1179.7,1650.1 1179.0,1651.6 1178.2,1653.2 1177.5,1654.7 1176.8,1656.3 1176.1,1657.8 1175.4,1659.4 1174.7,1660.9 1174.1,1662.5 1173.5,1664.0 1172.9,1665.6 1172.4,1667.2 1171.9,1668.7 1171.5,1670.3 1171.1,1671.8 1170.8,1673.4 1170.5,1674.9 1170.2,1676.5 1169.9,1678.0 1169.7,1679.6 1169.6,1681.1 1169.4,1682.7 1169.3,1684.2 1169.2,1685.8 1169.1,1687.4 1169.0,1688.9 1168.9,1690.5 1168.9,1692.0 1168.8,1693.6 1168.8,1695.1 1168.8,1696.7 1168.7,1698.2 1168.7,1699.8 1168.7,1701.3 1168.7,1702.9 1168.7,1704.4 1168.7,1706.0 1168.7,1707.6 1168.7,1709.1 1168.7,1710.7 1168.7,1712.2 1168.7,1713.8 1168.7,1715.3 1168.7,1716.9 1168.7,1718.4 1168.8,1720.0 1168.8,1721.5 1168.8,1723.1 1168.9,1724.6 1168.9,1726.2 1169.0,1727.8 1169.1,1729.3 1169.2,1730.9 1169.3,1732.4 1169.5,1734.0 1169.7,1735.5 1169.9,1737.1 1170.2,1738.6 1170.5,1740.2 1170.9,1741.7 1171.3,1743.3 1171.8,1744.8 1172.4,1746.4 1173.0,1748.0 1173.8,1749.5 1174.6,1751.1 1175.5,1752.6 1176.6,1754.2 1177.7,1755.7 1179.0,1757.3 1180.3,1758.8 1181.8,1760.4 1183.4,1761.9 1185.0,1763.5 1186.8,1765.0 1188.6,1766.6 1190.6,1768.2 1192.5,1769.7 1194.5,1771.3 1196.6,1772.8 1198.6,1774.4 1200.7,1775.9 1202.6,1777.5 1204.6,1779.0 1206.5,1780.6 1208.2,1782.1 1209.9,1783.7 1211.5,1785.2 1212.9,1786.8 1214.2,1788.4 1215.3,1789.9 1216.2,1791.5 1217.1,1793.0 1217.7,1794.6 1218.2,1796.1 1218.6,1797.7 1218.9,1799.2 1219.0,1800.8 1219.0,1802.3 1219.0,1803.9 1218.9,1805.4 1218.7,1807.0 1218.5,1808.6 1218.3,1810.1 1218.1,1811.7 1217.9,1813.2 1217.7,1814.8 1217.5,1816.3 1217.4,1817.9 1217.2,1819.4 1217.1,1821.0 1217.0,1822.5 1216.9,1824.1 1216.7,1825.6 1216.6,1827.2 1216.4,1828.8 1216.2,1830.3 1215.9,1831.9 1215.6,1833.4 1215.1,1835.0 1214.6,1836.5 1214.0,1838.1 1213.4,1839.6 1212.6,1841.2 1211.7,1842.7 1210.6,1844.3 1209.5,1845.8 1208.3,1847.4 1207.0,1849.0 1205.7,1850.5 1204.2,1852.1 1202.7,1853.6 1201.1,1855.2 1199.5,1856.7 1197.9,1858.3 1196.2,1859.8 1194.5,1861.4 1192.8,1862.9 1191.2,1864.5 1189.6,1866.0 1188.0,1867.6 1186.4,1869.2 1184.9,1870.7 1183.5,1872.3 1182.1,1873.8 1180.8,1875.4 1179.6,1876.9 1178.4,1878.5 1177.4,1880.0 1176.4,1881.6 1175.5,1883.1 1174.6,1884.7 1173.9,1886.2 1173.2,1887.8 1172.6,1889.4 1172.0,1890.9 1171.5,1892.5 1171.1,1894.0 1170.7,1895.6 1170.4,1897.1 1170.1,1898.7 1169.9,1900.2 1169.7,1901.8 1169.5,1903.3 1169.3,1904.9 1169.2,1906.5 1169.1,1908.0 1169.0,1909.6 1168.9,1911.1 1168.9,1912.7 1168.8,1914.2Z" fill="#a5b3e3" stroke="#000" stroke-width="2.7" stroke-linejoin="round"/>
<g stroke="#333" stroke-width="2.5" fill="none">
<line x1="1168.66" y1="1784.99" x2="1168.66" y2="1788.89"/>
<line x1="1168.66" y1="1832.58" x2="1168.66" y2="1854.56"/>
<rect x="1163.21" y="1788.89" width="10.90" height="43.70" fill="#bfbfbf" stroke-linejoin="round"/>
<line x1="1163.21" y1="1802.05" x2="1174.11" y2="1802.05" stroke-width="5"/>
</g>
<circle cx="1168.66" cy="1633.59" r="3.5" fill="#333"/>
<g fill="#e0301e"><circle cx="1172.20" cy="1633.59" r="3.7"/><circle cx="1165.90" cy="1784.99" r="3.7"/><circle cx="1166.50" cy="1792.78" r="3.7"/><circle cx="1162.60" cy="1802.05" r="3.7"/><circle cx="1165.00" cy="1830.32" r="3.7"/><circle cx="1171.10" cy="1834.85" r="3.7"/><circle cx="1162.90" cy="1854.56" r="3.7"/></g>
<path d="M1280.4,1851.1 1280.3,1850.3 1280.2,1849.5 1280.1,1848.7 1279.9,1847.9 1279.7,1847.1 1279.4,1846.3 1279.0,1845.4 1278.5,1844.6 1278.0,1843.8 1277.3,1843.0 1276.6,1842.2 1275.7,1841.4 1274.7,1840.6 1273.7,1839.7 1272.6,1838.9 1271.4,1838.1 1270.2,1837.3 1269.1,1836.5 1267.9,1835.7 1266.9,1834.9 1266.0,1834.0 1265.3,1833.2 1264.8,1832.4 1264.4,1831.6 1264.3,1830.8 1264.4,1830.0 1264.6,1829.2 1265.0,1828.3 1265.5,1827.5 1266.0,1826.7 1266.6,1825.9 1267.1,1825.1 1267.4,1824.3 1267.6,1823.5 1267.6,1822.6 1267.4,1821.8 1266.8,1821.0 1266.0,1820.2 1264.9,1819.4 1263.5,1818.6 1261.9,1817.8 1260.0,1816.9 1258.0,1816.1 1255.8,1815.3 1253.6,1814.5 1251.3,1813.7 1249.0,1812.9 1246.8,1812.1 1244.7,1811.2 1242.6,1810.4 1240.8,1809.6 1239.0,1808.8 1237.4,1808.0 1236.0,1807.2 1234.7,1806.4 1233.5,1805.5 1232.5,1804.7 1231.7,1803.9 1231.0,1803.1 1230.6,1802.3 1230.3,1801.5 1230.2,1800.7 1230.4,1799.8 1230.8,1799.0 1231.6,1798.2 1232.5,1797.4 1233.8,1796.6 1235.3,1795.8 1237.1,1795.0 1239.1,1794.1 1241.3,1793.3 1243.6,1792.5 1246.1,1791.7 1248.7,1790.9 1251.4,1790.1 1254.0,1789.3 1256.7,1788.4 1259.2,1787.6 1261.7,1786.8 1264.1,1786.0 1266.3,1785.2 1268.3,1784.4 1270.2,1783.6 1271.9,1782.7 1273.4,1781.9 1274.7,1781.1 1275.8,1780.3 1276.8,1779.5 1277.6,1778.7 1278.2,1777.9 1278.8,1777.0 1279.2,1776.2 1279.6,1775.4 1279.8,1774.6 1280.0,1773.8 1280.2,1773.0 1280.3,1772.1 1280.4,1771.3 1280.5,1770.5 1280.5,1769.7 1280.5,1768.9 1280.6,1768.1 1280.6,1767.3 1280.6,1766.4 1280.6,1765.6 1280.6,1764.8 1280.6,1764.0 1280.6,1763.2 1280.6,1762.4 1280.6,1761.6 1280.6,1760.7 1280.6,1759.9 1280.6,1759.1 1280.6,1758.3 1280.6,1757.5 1280.6,1756.7 1280.6,1755.9 1280.6,1755.0 1280.6,1754.2 1280.6,1753.4 1280.6,1752.6 1280.6,1751.8 1280.6,1751.0 1280.6,1750.2 1280.6,1749.3 1280.6,1748.5 1280.6,1747.7 1280.6,1746.9 1280.6,1746.1 1280.6,1745.3 1280.6,1744.5 1280.6,1743.6 1280.6,1742.8 1280.6,1742.0 1280.6,1741.2 1280.6,1740.4 1280.6,1739.6 1280.6,1738.8 1280.6,1737.9 1280.6,1737.1 1280.6,1736.3 1280.6,1735.5 1280.6,1734.7 1280.6,1733.9 1280.6,1733.1 1280.6,1732.2 1280.6,1731.4 1280.6,1730.6 1280.6,1729.8 1280.6,1729.0 1280.6,1728.2 1280.6,1727.4 1280.6,1726.5 1280.6,1725.7 1280.6,1724.9 1280.6,1724.1 1280.6,1723.3 1280.6,1722.5 1280.6,1721.7 1280.6,1720.8 1280.6,1720.0 1280.6,1719.2 1280.6,1718.4 1280.6,1717.6 1280.6,1716.8 1280.6,1716.0 1280.5,1715.1 1280.5,1714.3 1280.5,1713.5 1280.4,1712.7 1280.3,1711.9 1280.2,1711.1 1280.1,1710.3 1279.9,1709.4 1279.6,1708.6 1279.3,1707.8 1278.9,1707.0 1278.4,1706.2 1277.8,1705.4 1277.1,1704.6 1276.4,1703.7 1275.5,1702.9 1274.5,1702.1 1273.4,1701.3 1272.3,1700.5 1271.1,1699.7 1269.9,1698.9 1268.8,1698.0 1267.7,1697.2 1266.7,1696.4 1265.9,1695.6 1265.3,1694.8 1264.8,1694.0 1264.6,1693.1 1264.7,1692.3 1264.9,1691.5 1265.4,1690.7 1266.1,1689.9 1267.0,1689.1 1268.0,1688.3 1269.1,1687.4 1270.2,1686.6 1271.4,1685.8 1272.6,1685.0 1273.7,1684.2 1274.7,1683.4 1275.7,1682.6 1276.6,1681.7 1277.3,1680.9 1278.0,1680.1 1278.5,1679.3 1279.0,1678.5 1279.4,1677.7 1279.7,1676.9 1279.9,1676.0 1280.1,1675.2 1280.2,1674.4 1280.3,1673.6 1280.4,1672.8 1280.8,1672.8 1280.9,1673.6 1281.0,1674.4 1281.1,1675.2 1281.3,1676.0 1281.5,1676.9 1281.8,1677.7 1282.2,1678.5 1282.7,1679.3 1283.2,1680.1 1283.9,1680.9 1284.6,1681.7 1285.5,1682.6 1286.5,1683.4 1287.5,1684.2 1288.6,1685.0 1289.8,1685.8 1291.0,1686.6 1292.1,1687.4 1293.2,1688.3 1294.2,1689.1 1295.1,1689.9 1295.8,1690.7 1296.3,1691.5 1296.5,1692.3 1296.6,1693.1 1296.4,1694.0 1295.9,1694.8 1295.3,1695.6 1294.5,1696.4 1293.5,1697.2 1292.4,1698.0 1291.3,1698.9 1290.1,1699.7 1288.9,1700.5 1287.8,1701.3 1286.7,1702.1 1285.7,1702.9 1284.8,1703.7 1284.1,1704.6 1283.4,1705.4 1282.8,1706.2 1282.3,1707.0 1281.9,1707.8 1281.6,1708.6 1281.3,1709.4 1281.1,1710.3 1281.0,1711.1 1280.9,1711.9 1280.8,1712.7 1280.7,1713.5 1280.7,1714.3 1280.7,1715.1 1280.6,1716.0 1280.6,1716.8 1280.6,1717.6 1280.6,1718.4 1280.6,1719.2 1280.6,1720.0 1280.6,1720.8 1280.6,1721.7 1280.6,1722.5 1280.6,1723.3 1280.6,1724.1 1280.6,1724.9 1280.6,1725.7 1280.6,1726.5 1280.6,1727.4 1280.6,1728.2 1280.6,1729.0 1280.6,1729.8 1280.6,1730.6 1280.6,1731.4 1280.6,1732.2 1280.6,1733.1 1280.6,1733.9 1280.6,1734.7 1280.6,1735.5 1280.6,1736.3 1280.6,1737.1 1280.6,1737.9 1280.6,1738.8 1280.6,1739.6 1280.6,1740.4 1280.6,1741.2 1280.6,1742.0 1280.6,1742.8 1280.6,1743.6 1280.6,1744.5 1280.6,1745.3 1280.6,1746.1 1280.6,1746.9 1280.6,1747.7 1280.6,1748.5 1280.6,1749.3 1280.6,1750.2 1280.6,1751.0 1280.6,1751.8 1280.6,1752.6 1280.6,1753.4 1280.6,1754.2 1280.6,1755.0 1280.6,1755.9 1280.6,1756.7 1280.6,1757.5 1280.6,1758.3 1280.6,1759.1 1280.6,1759.9 1280.6,1760.7 1280.6,1761.6 1280.6,1762.4 1280.6,1763.2 1280.6,1764.0 1280.6,1764.8 1280.6,1765.6 1280.6,1766.4 1280.6,1767.3 1280.6,1768.1 1280.7,1768.9 1280.7,1769.7 1280.7,1770.5 1280.8,1771.3 1280.9,1772.1 1281.0,1773.0 1281.2,1773.8 1281.4,1774.6 1281.6,1775.4 1282.0,1776.2 1282.4,1777.0 1283.0,1777.9 1283.6,1778.7 1284.4,1779.5 1285.4,1780.3 1286.5,1781.1 1287.8,1781.9 1289.3,1782.7 1291.0,1783.6 1292.9,1784.4 1294.9,1785.2 1297.1,1786.0 1299.5,1786.8 1302.0,1787.6 1304.5,1788.4 1307.2,1789.3 1309.8,1790.1 1312.5,1790.9 1315.1,1791.7 1317.6,1792.5 1319.9,1793.3 1322.1,1794.1 1324.1,1795.0 1325.9,1795.8 1327.4,1796.6 1328.7,1797.4 1329.6,1798.2 1330.4,1799.0 1330.8,1799.8 1331.0,1800.7 1330.9,1801.5 1330.6,1802.3 1330.2,1803.1 1329.5,1803.9 1328.7,1804.7 1327.7,1805.5 1326.5,1806.4 1325.2,1807.2 1323.8,1808.0 1322.2,1808.8 1320.4,1809.6 1318.6,1810.4 1316.5,1811.2 1314.4,1812.1 1312.2,1812.9 1309.9,1813.7 1307.6,1814.5 1305.4,1815.3 1303.2,1816.1 1301.2,1816.9 1299.3,1817.8 1297.7,1818.6 1296.3,1819.4 1295.2,1820.2 1294.4,1821.0 1293.8,1821.8 1293.6,1822.6 1293.6,1823.5 1293.8,1824.3 1294.1,1825.1 1294.6,1825.9 1295.2,1826.7 1295.7,1827.5 1296.2,1828.3 1296.6,1829.2 1296.8,1830.0 1296.9,1830.8 1296.8,1831.6 1296.4,1832.4 1295.9,1833.2 1295.2,1834.0 1294.3,1834.9 1293.3,1835.7 1292.1,1836.5 1291.0,1837.3 1289.8,1838.1 1288.6,1838.9 1287.5,1839.7 1286.5,1840.6 1285.5,1841.4 1284.6,1842.2 1283.9,1843.0 1283.2,1843.8 1282.7,1844.6 1282.2,1845.4 1281.8,1846.3 1281.5,1847.1 1281.3,1847.9 1281.1,1848.7 1281.0,1849.5 1280.9,1850.3 1280.8,1851.1Z" fill="#afc1ea" stroke="#000" stroke-width="2.7" stroke-linejoin="round"/>
<g stroke="#333" stroke-width="2.5" fill="none">
<line x1="1280.60" y1="1791.25" x2="1280.60" y2="1795.01"/>
<line x1="1280.60" y1="1809.71" x2="1280.60" y2="1831.09"/>
<rect x="1275.15" y="1795.01" width="10.90" height="14.69" fill="#bfbfbf" stroke-linejoin="round"/>
<line x1="1275.15" y1="1799.40" x2="1286.05" y2="1799.40" stroke-width="5"/>
</g>
<circle cx="1280.60" cy="1692.85" r="3.5" fill="#333"/>
<g fill="#e0301e"><circle cx="1283.60" cy="1692.85" r="3.7"/><circle cx="1275.80" cy="1791.25" r="3.7"/><circle cx="1273.90" cy="1799.40" r="3.7"/><circle cx="1279.10" cy="1798.77" r="3.7"/><circle cx="1281.60" cy="1807.41" r="3.7"/><circle cx="1276.60" cy="1812.01" r="3.7"/><circle cx="1283.30" cy="1831.09" r="3.7"/></g>
<path d="M1392.4,1860.2 1392.3,1859.4 1392.2,1858.5 1392.2,1857.7 1392.1,1856.8 1391.9,1856.0 1391.8,1855.2 1391.6,1854.3 1391.4,1853.5 1391.1,1852.6 1390.8,1851.8 1390.4,1850.9 1390.0,1850.1 1389.5,1849.3 1389.0,1848.4 1388.4,1847.6 1387.8,1846.7 1387.1,1845.9 1386.3,1845.0 1385.5,1844.2 1384.7,1843.4 1383.8,1842.5 1382.9,1841.7 1382.0,1840.8 1381.1,1840.0 1380.2,1839.1 1379.3,1838.3 1378.5,1837.5 1377.7,1836.6 1377.0,1835.8 1376.4,1834.9 1375.8,1834.1 1375.3,1833.2 1374.9,1832.4 1374.5,1831.6 1374.1,1830.7 1373.8,1829.9 1373.5,1829.0 1373.2,1828.2 1372.9,1827.3 1372.5,1826.5 1372.1,1825.6 1371.6,1824.8 1371.0,1824.0 1370.3,1823.1 1369.5,1822.3 1368.6,1821.4 1367.6,1820.6 1366.6,1819.7 1365.4,1818.9 1364.2,1818.1 1362.9,1817.2 1361.6,1816.4 1360.3,1815.5 1359.0,1814.7 1357.7,1813.8 1356.5,1813.0 1355.3,1812.2 1354.3,1811.3 1353.3,1810.5 1352.4,1809.6 1351.5,1808.8 1350.7,1807.9 1350.0,1807.1 1349.3,1806.3 1348.7,1805.4 1348.0,1804.6 1347.4,1803.7 1346.8,1802.9 1346.1,1802.0 1345.5,1801.2 1344.9,1800.4 1344.3,1799.5 1343.7,1798.7 1343.2,1797.8 1342.7,1797.0 1342.4,1796.1 1342.2,1795.3 1342.2,1794.5 1342.3,1793.6 1342.7,1792.8 1343.3,1791.9 1344.1,1791.1 1345.1,1790.2 1346.4,1789.4 1347.9,1788.5 1349.7,1787.7 1351.6,1786.9 1353.7,1786.0 1355.9,1785.2 1358.2,1784.3 1360.6,1783.5 1363.1,1782.6 1365.5,1781.8 1367.9,1781.0 1370.3,1780.1 1372.6,1779.3 1374.8,1778.4 1376.8,1777.6 1378.8,1776.7 1380.5,1775.9 1382.2,1775.1 1383.6,1774.2 1384.9,1773.4 1386.1,1772.5 1387.2,1771.7 1388.1,1770.8 1388.8,1770.0 1389.5,1769.2 1390.1,1768.3 1390.5,1767.5 1390.9,1766.6 1391.3,1765.8 1391.5,1764.9 1391.8,1764.1 1391.9,1763.3 1392.1,1762.4 1392.2,1761.6 1392.3,1760.7 1392.3,1759.9 1392.4,1759.0 1392.4,1758.2 1392.5,1757.3 1392.5,1756.5 1392.5,1755.7 1392.5,1754.8 1392.5,1754.0 1392.5,1753.1 1392.5,1752.3 1392.5,1751.4 1392.5,1750.6 1392.5,1749.8 1392.5,1748.9 1392.5,1748.1 1392.5,1747.2 1392.5,1746.4 1392.5,1745.5 1392.5,1744.7 1392.5,1743.9 1392.5,1743.0 1392.5,1742.2 1392.5,1741.3 1392.5,1740.5 1392.5,1739.6 1392.5,1738.8 1392.5,1738.0 1392.5,1737.1 1392.5,1736.3 1392.5,1735.4 1392.5,1734.6 1392.5,1733.7 1392.4,1732.9 1392.4,1732.1 1392.4,1731.2 1392.3,1730.4 1392.2,1729.5 1392.2,1728.7 1392.1,1727.8 1391.9,1727.0 1391.8,1726.1 1391.6,1725.3 1391.4,1724.5 1391.1,1723.6 1390.8,1722.8 1390.4,1721.9 1390.0,1721.1 1389.5,1720.2 1389.0,1719.4 1388.4,1718.6 1387.8,1717.7 1387.1,1716.9 1386.4,1716.0 1385.6,1715.2 1384.7,1714.3 1383.9,1713.5 1383.0,1712.7 1382.2,1711.8 1381.3,1711.0 1380.5,1710.1 1379.7,1709.3 1379.0,1708.4 1378.4,1707.6 1377.8,1706.8 1377.4,1705.9 1377.1,1705.1 1376.9,1704.2 1376.8,1703.4 1376.9,1702.5 1377.1,1701.7 1377.4,1700.9 1377.8,1700.0 1378.4,1699.2 1379.0,1698.3 1379.7,1697.5 1380.5,1696.6 1381.3,1695.8 1382.1,1694.9 1383.0,1694.1 1383.9,1693.3 1384.7,1692.4 1385.5,1691.6 1386.3,1690.7 1387.1,1689.9 1387.8,1689.0 1388.4,1688.2 1389.0,1687.4 1389.5,1686.5 1390.0,1685.7 1390.4,1684.8 1390.8,1684.0 1391.1,1683.1 1391.4,1682.3 1391.6,1681.5 1391.8,1680.6 1391.9,1679.8 1392.1,1678.9 1392.2,1678.1 1392.2,1677.2 1392.3,1676.4 1392.4,1675.6 1392.7,1675.6 1392.8,1676.4 1392.8,1677.2 1392.9,1678.1 1393.0,1678.9 1393.2,1679.8 1393.3,1680.6 1393.5,1681.5 1393.7,1682.3 1394.0,1683.1 1394.3,1684.0 1394.7,1684.8 1395.1,1685.7 1395.6,1686.5 1396.1,1687.4 1396.7,1688.2 1397.3,1689.0 1398.0,1689.9 1398.8,1690.7 1399.5,1691.6 1400.4,1692.4 1401.2,1693.3 1402.1,1694.1 1403.0,1694.9 1403.8,1695.8 1404.6,1696.6 1405.4,1697.5 1406.1,1698.3 1406.7,1699.2 1407.3,1700.0 1407.7,1700.9 1408.0,1701.7 1408.2,1702.5 1408.3,1703.4 1408.2,1704.2 1408.0,1705.1 1407.7,1705.9 1407.2,1706.8 1406.7,1707.6 1406.1,1708.4 1405.4,1709.3 1404.6,1710.1 1403.8,1711.0 1402.9,1711.8 1402.1,1712.7 1401.2,1713.5 1400.3,1714.3 1399.5,1715.2 1398.7,1716.0 1398.0,1716.9 1397.3,1717.7 1396.6,1718.6 1396.1,1719.4 1395.5,1720.2 1395.1,1721.1 1394.7,1721.9 1394.3,1722.8 1394.0,1723.6 1393.7,1724.5 1393.5,1725.3 1393.3,1726.1 1393.2,1727.0 1393.0,1727.8 1392.9,1728.7 1392.8,1729.5 1392.8,1730.4 1392.7,1731.2 1392.7,1732.1 1392.6,1732.9 1392.6,1733.7 1392.6,1734.6 1392.6,1735.4 1392.6,1736.3 1392.6,1737.1 1392.6,1738.0 1392.6,1738.8 1392.5,1739.6 1392.5,1740.5 1392.5,1741.3 1392.5,1742.2 1392.5,1743.0 1392.5,1743.9 1392.5,1744.7 1392.5,1745.5 1392.5,1746.4 1392.5,1747.2 1392.5,1748.1 1392.5,1748.9 1392.5,1749.8 1392.5,1750.6 1392.5,1751.4 1392.6,1752.3 1392.6,1753.1 1392.6,1754.0 1392.6,1754.8 1392.6,1755.7 1392.6,1756.5 1392.6,1757.3 1392.7,1758.2 1392.7,1759.0 1392.7,1759.9 1392.8,1760.7 1392.9,1761.6 1393.0,1762.4 1393.2,1763.3 1393.3,1764.1 1393.5,1764.9 1393.8,1765.8 1394.1,1766.6 1394.5,1767.5 1395.0,1768.3 1395.6,1769.2 1396.2,1770.0 1397.0,1770.8 1397.9,1771.7 1399.0,1772.5 1400.1,1773.4 1401.5,1774.2 1402.9,1775.1 1404.6,1775.9 1406.3,1776.7 1408.2,1777.6 1410.3,1778.4 1412.5,1779.3 1414.8,1780.1 1417.1,1781.0 1419.6,1781.8 1422.0,1782.6 1424.4,1783.5 1426.9,1784.3 1429.2,1785.2 1431.4,1786.0 1433.5,1786.9 1435.4,1787.7 1437.2,1788.5 1438.7,1789.4 1440.0,1790.2 1441.0,1791.1 1441.8,1791.9 1442.4,1792.8 1442.8,1793.6 1442.9,1794.5 1442.9,1795.3 1442.7,1796.1 1442.4,1797.0 1441.9,1797.8 1441.4,1798.7 1440.8,1799.5 1440.2,1800.4 1439.6,1801.2 1439.0,1802.0 1438.3,1802.9 1437.7,1803.7 1437.1,1804.6 1436.4,1805.4 1435.8,1806.3 1435.1,1807.1 1434.3,1807.9 1433.6,1808.8 1432.7,1809.6 1431.8,1810.5 1430.8,1811.3 1429.7,1812.2 1428.6,1813.0 1427.4,1813.8 1426.1,1814.7 1424.8,1815.5 1423.5,1816.4 1422.2,1817.2 1420.9,1818.1 1419.7,1818.9 1418.5,1819.7 1417.4,1820.6 1416.4,1821.4 1415.5,1822.3 1414.8,1823.1 1414.1,1824.0 1413.5,1824.8 1413.0,1825.6 1412.6,1826.5 1412.2,1827.3 1411.9,1828.2 1411.6,1829.0 1411.3,1829.9 1411.0,1830.7 1410.6,1831.6 1410.2,1832.4 1409.8,1833.2 1409.3,1834.1 1408.7,1834.9 1408.0,1835.8 1407.3,1836.6 1406.6,1837.5 1405.7,1838.3 1404.9,1839.1 1404.0,1840.0 1403.1,1840.8 1402.2,1841.7 1401.3,1842.5 1400.4,1843.4 1399.6,1844.2 1398.8,1845.0 1398.0,1845.9 1397.3,1846.7 1396.7,1847.6 1396.1,1848.4 1395.6,1849.3 1395.1,1850.1 1394.7,1850.9 1394.3,1851.8 1394.0,1852.6 1393.7,1853.5 1393.5,1854.3 1393.3,1855.2 1393.2,1856.0 1393.0,1856.8 1392.9,1857.7 1392.8,1858.5 1392.8,1859.4 1392.7,1860.2Z" fill="#b3c6ec" stroke="#000" stroke-width="2.7" stroke-linejoin="round"/>
<g stroke="#333" stroke-width="2.5" fill="none">
<line x1="1392.54" y1="1787.98" x2="1392.54" y2="1790.14"/>
<line x1="1392.54" y1="1810.51" x2="1392.54" y2="1832.41"/>
<rect x="1387.09" y="1790.14" width="10.90" height="20.37" fill="#bfbfbf" stroke-linejoin="round"/>
<line x1="1387.09" y1="1794.80" x2="1397.99" y2="1794.80" stroke-width="5"/>
</g>
<circle cx="1392.54" cy="1703.37" r="3.5" fill="#333"/>
<g fill="#e0301e"><circle cx="1394.10" cy="1703.37" r="3.7"/><circle cx="1388.40" cy="1787.98" r="3.7"/><circle cx="1389.30" cy="1792.30" r="3.7"/><circle cx="1390.40" cy="1794.80" r="3.7"/><circle cx="1386.40" cy="1810.06" r="3.7"/><circle cx="1387.70" cy="1810.96" r="3.7"/><circle cx="1390.20" cy="1832.41" r="3.7"/></g>
<path d="M1504.3,1881.2 1504.2,1879.6 1504.1,1878.0 1503.9,1876.4 1503.6,1874.8 1503.2,1873.2 1502.6,1871.6 1501.9,1870.0 1501.1,1868.4 1500.0,1866.8 1498.6,1865.2 1497.1,1863.6 1495.4,1862.0 1493.4,1860.4 1491.4,1858.8 1489.2,1857.2 1486.9,1855.6 1484.5,1854.0 1482.2,1852.4 1479.8,1850.8 1477.4,1849.2 1475.0,1847.6 1472.6,1846.0 1470.1,1844.4 1467.6,1842.8 1465.0,1841.2 1462.5,1839.6 1460.1,1838.0 1457.9,1836.4 1456.1,1834.8 1454.8,1833.2 1454.1,1831.6 1454.2,1830.0 1455.0,1828.4 1456.6,1826.8 1459.0,1825.2 1462.0,1823.6 1465.5,1822.0 1469.2,1820.4 1472.9,1818.8 1476.5,1817.2 1479.8,1815.6 1482.5,1814.0 1484.8,1812.4 1486.4,1810.8 1487.6,1809.2 1488.3,1807.6 1488.7,1806.0 1488.9,1804.4 1489.1,1802.8 1489.4,1801.2 1489.8,1799.6 1490.4,1798.0 1491.2,1796.4 1492.3,1794.8 1493.5,1793.2 1494.8,1791.6 1496.2,1790.0 1497.6,1788.4 1498.8,1786.8 1500.0,1785.2 1501.0,1783.6 1501.8,1782.0 1502.5,1780.4 1503.1,1778.8 1503.5,1777.2 1503.8,1775.6 1504.0,1774.0 1504.2,1772.4 1504.3,1770.8 1504.4,1769.2 1504.4,1767.6 1504.4,1766.0 1504.5,1764.4 1504.5,1762.8 1504.5,1761.2 1504.5,1759.6 1504.5,1758.0 1504.5,1756.4 1504.5,1754.8 1504.5,1753.2 1504.5,1751.6 1504.5,1750.0 1504.5,1748.4 1504.5,1746.8 1504.5,1745.2 1504.5,1743.6 1504.5,1742.0 1504.5,1740.4 1504.5,1738.8 1504.5,1737.2 1504.5,1735.6 1504.5,1734.0 1504.5,1732.4 1504.5,1730.8 1504.5,1729.2 1504.5,1727.6 1504.5,1726.0 1504.5,1724.4 1504.5,1722.8 1504.5,1721.2 1504.5,1719.6 1504.5,1718.0 1504.5,1716.4 1504.5,1714.8 1504.5,1713.2 1504.5,1711.6 1504.5,1710.0 1504.5,1708.4 1504.5,1706.8 1504.5,1705.2 1504.5,1703.6 1504.5,1702.0 1504.5,1700.4 1504.5,1698.8 1504.5,1697.2 1504.5,1695.6 1504.5,1694.0 1504.5,1692.4 1504.5,1690.8 1504.5,1689.2 1504.5,1687.6 1504.5,1686.0 1504.5,1684.4 1504.5,1682.8 1504.5,1681.2 1504.5,1679.6 1504.5,1678.0 1504.5,1676.4 1504.5,1674.8 1504.5,1673.2 1504.5,1671.6 1504.5,1670.0 1504.5,1668.4 1504.5,1666.8 1504.5,1665.2 1504.5,1663.6 1504.5,1662.0 1504.5,1660.4 1504.5,1658.8 1504.5,1657.2 1504.5,1655.6 1504.5,1654.0 1504.5,1652.4 1504.5,1650.8 1504.5,1649.2 1504.5,1647.6 1504.5,1646.0 1504.5,1644.4 1504.5,1642.8 1504.5,1641.2 1504.5,1639.6 1504.5,1638.0 1504.5,1636.4 1504.5,1634.8 1504.5,1633.2 1504.5,1631.6 1504.5,1630.0 1504.5,1628.4 1504.5,1626.8 1504.5,1625.2 1504.5,1623.6 1504.5,1622.0 1504.5,1620.4 1504.5,1618.8 1504.5,1617.2 1504.5,1615.6 1504.5,1614.0 1504.5,1612.4 1504.5,1610.8 1504.5,1609.2 1504.5,1607.6 1504.5,1606.0 1504.5,1604.4 1504.5,1602.8 1504.5,1601.2 1504.5,1599.6 1504.5,1598.0 1504.5,1596.4 1504.4,1594.8 1504.4,1593.2 1504.4,1591.6 1504.3,1590.0 1504.2,1588.4 1504.0,1586.8 1503.8,1585.2 1503.5,1583.6 1503.0,1582.0 1502.5,1580.4 1501.8,1578.8 1500.9,1577.2 1499.9,1575.6 1498.7,1574.0 1497.4,1572.4 1496.1,1570.8 1494.8,1569.2 1493.5,1567.6 1492.4,1566.0 1491.5,1564.4 1490.9,1562.8 1490.6,1561.2 1490.7,1559.6 1491.1,1558.0 1491.8,1556.4 1492.8,1554.8 1494.0,1553.2 1495.3,1551.6 1496.7,1550.0 1498.0,1548.4 1499.2,1546.8 1500.3,1545.2 1501.3,1543.6 1502.1,1542.0 1502.7,1540.4 1503.2,1538.8 1503.6,1537.2 1503.9,1535.6 1504.1,1534.0 1504.2,1532.4 1504.3,1530.8 1504.6,1530.8 1504.7,1532.4 1504.9,1534.0 1505.1,1535.6 1505.3,1537.2 1505.7,1538.8 1506.2,1540.4 1506.9,1542.0 1507.7,1543.6 1508.6,1545.2 1509.7,1546.8 1510.9,1548.4 1512.3,1550.0 1513.6,1551.6 1514.9,1553.2 1516.1,1554.8 1517.1,1556.4 1517.9,1558.0 1518.3,1559.6 1518.4,1561.2 1518.1,1562.8 1517.5,1564.4 1516.6,1566.0 1515.5,1567.6 1514.2,1569.2 1512.8,1570.8 1511.5,1572.4 1510.2,1574.0 1509.1,1575.6 1508.1,1577.2 1507.2,1578.8 1506.5,1580.4 1505.9,1582.0 1505.5,1583.6 1505.2,1585.2 1504.9,1586.8 1504.8,1588.4 1504.7,1590.0 1504.6,1591.6 1504.6,1593.2 1504.5,1594.8 1504.5,1596.4 1504.5,1598.0 1504.5,1599.6 1504.5,1601.2 1504.5,1602.8 1504.5,1604.4 1504.5,1606.0 1504.5,1607.6 1504.5,1609.2 1504.5,1610.8 1504.5,1612.4 1504.5,1614.0 1504.5,1615.6 1504.5,1617.2 1504.5,1618.8 1504.5,1620.4 1504.5,1622.0 1504.5,1623.6 1504.5,1625.2 1504.5,1626.8 1504.5,1628.4 1504.5,1630.0 1504.5,1631.6 1504.5,1633.2 1504.5,1634.8 1504.5,1636.4 1504.5,1638.0 1504.5,1639.6 1504.5,1641.2 1504.5,1642.8 1504.5,1644.4 1504.5,1646.0 1504.5,1647.6 1504.5,1649.2 1504.5,1650.8 1504.5,1652.4 1504.5,1654.0 1504.5,1655.6 1504.5,1657.2 1504.5,1658.8 1504.5,1660.4 1504.5,1662.0 1504.5,1663.6 1504.5,1665.2 1504.5,1666.8 1504.5,1668.4 1504.5,1670.0 1504.5,1671.6 1504.5,1673.2 1504.5,1674.8 1504.5,1676.4 1504.5,1678.0 1504.5,1679.6 1504.5,1681.2 1504.5,1682.8 1504.5,1684.4 1504.5,1686.0 1504.5,1687.6 1504.5,1689.2 1504.5,1690.8 1504.5,1692.4 1504.5,1694.0 1504.5,1695.6 1504.5,1697.2 1504.5,1698.8 1504.5,1700.4 1504.5,1702.0 1504.5,1703.6 1504.5,1705.2 1504.5,1706.8 1504.5,1708.4 1504.5,1710.0 1504.5,1711.6 1504.5,1713.2 1504.5,1714.8 1504.5,1716.4 1504.5,1718.0 1504.5,1719.6 1504.5,1721.2 1504.5,1722.8 1504.5,1724.4 1504.5,1726.0 1504.5,1727.6 1504.5,1729.2 1504.5,1730.8 1504.5,1732.4 1504.5,1734.0 1504.5,1735.6 1504.5,1737.2 1504.5,1738.8 1504.5,1740.4 1504.5,1742.0 1504.5,1743.6 1504.5,1745.2 1504.5,1746.8 1504.5,1748.4 1504.5,1750.0 1504.5,1751.6 1504.5,1753.2 1504.5,1754.8 1504.5,1756.4 1504.5,1758.0 1504.5,1759.6 1504.5,1761.2 1504.5,1762.8 1504.5,1764.4 1504.5,1766.0 1504.5,1767.6 1504.6,1769.2 1504.7,1770.8 1504.8,1772.4 1504.9,1774.0 1505.1,1775.6 1505.5,1777.2 1505.9,1778.8 1506.4,1780.4 1507.1,1782.0 1508.0,1783.6 1509.0,1785.2 1510.1,1786.8 1511.4,1788.4 1512.8,1790.0 1514.1,1791.6 1515.5,1793.2 1516.7,1794.8 1517.7,1796.4 1518.6,1798.0 1519.2,1799.6 1519.6,1801.2 1519.8,1802.8 1520.0,1804.4 1520.3,1806.0 1520.7,1807.6 1521.4,1809.2 1522.5,1810.8 1524.2,1812.4 1526.4,1814.0 1529.2,1815.6 1532.4,1817.2 1536.0,1818.8 1539.8,1820.4 1543.5,1822.0 1546.9,1823.6 1549.9,1825.2 1552.3,1826.8 1554.0,1828.4 1554.8,1830.0 1554.9,1831.6 1554.2,1833.2 1552.8,1834.8 1551.0,1836.4 1548.8,1838.0 1546.4,1839.6 1543.9,1841.2 1541.4,1842.8 1538.8,1844.4 1536.4,1846.0 1533.9,1847.6 1531.5,1849.2 1529.1,1850.8 1526.8,1852.4 1524.4,1854.0 1522.1,1855.6 1519.8,1857.2 1517.6,1858.8 1515.5,1860.4 1513.6,1862.0 1511.8,1863.6 1510.3,1865.2 1509.0,1866.8 1507.9,1868.4 1507.0,1870.0 1506.3,1871.6 1505.8,1873.2 1505.4,1874.8 1505.1,1876.4 1504.9,1878.0 1504.7,1879.6 1504.6,1881.2Z" fill="#bdd0ef" stroke="#000" stroke-width="2.7" stroke-linejoin="round"/>
<g stroke="#333" stroke-width="2.5" fill="none">
<line x1="1504.48" y1="1800.24" x2="1504.48" y2="1813.05"/>
<line x1="1504.48" y1="1834.99" x2="1504.48" y2="1851.28"/>
<rect x="1499.03" y="1813.05" width="10.90" height="21.94" fill="#bfbfbf" stroke-linejoin="round"/>
<line x1="1499.03" y1="1827.74" x2="1509.93" y2="1827.74" stroke-width="5"/>
</g>
<circle cx="1504.48" cy="1560.74" r="3.5" fill="#333"/>
<g fill="#e0301e"><circle cx="1501.60" cy="1560.74" r="3.7"/><circle cx="1507.40" cy="1800.24" r="3.7"/><circle cx="1498.70" cy="1825.86" r="3.7"/><circle cx="1508.20" cy="1827.74" r="3.7"/><circle cx="1503.30" cy="1830.11" r="3.7"/><circle cx="1503.50" cy="1839.86" r="3.7"/><circle cx="1504.10" cy="1851.28" r="3.7"/></g>
<path d="M1616.2,1881.1 1616.1,1879.4 1616.0,1877.7 1615.7,1876.0 1615.4,1874.3 1614.9,1872.7 1614.3,1871.0 1613.4,1869.3 1612.3,1867.6 1610.9,1865.9 1609.1,1864.3 1606.9,1862.6 1604.4,1860.9 1601.5,1859.2 1598.3,1857.5 1594.8,1855.8 1591.1,1854.2 1587.3,1852.5 1583.5,1850.8 1579.9,1849.1 1576.6,1847.4 1573.6,1845.7 1571.1,1844.1 1569.0,1842.4 1567.5,1840.7 1566.6,1839.0 1566.1,1837.3 1566.0,1835.6 1566.4,1834.0 1567.0,1832.3 1567.9,1830.6 1568.9,1828.9 1570.2,1827.2 1571.5,1825.5 1573.1,1823.9 1574.7,1822.2 1576.6,1820.5 1578.5,1818.8 1580.7,1817.1 1582.9,1815.5 1585.4,1813.8 1587.9,1812.1 1590.5,1810.4 1593.2,1808.7 1595.9,1807.0 1598.5,1805.4 1601.1,1803.7 1603.5,1802.0 1605.7,1800.3 1607.7,1798.6 1609.4,1796.9 1611.0,1795.3 1612.2,1793.6 1613.3,1791.9 1614.1,1790.2 1614.8,1788.5 1615.3,1786.8 1615.6,1785.2 1615.9,1783.5 1616.1,1781.8 1616.2,1780.1 1616.3,1778.4 1616.3,1776.7 1616.4,1775.1 1616.4,1773.4 1616.4,1771.7 1616.4,1770.0 1616.4,1768.3 1616.4,1766.7 1616.4,1765.0 1616.4,1763.3 1616.4,1761.6 1616.4,1759.9 1616.4,1758.2 1616.4,1756.6 1616.4,1754.9 1616.4,1753.2 1616.4,1751.5 1616.4,1749.8 1616.4,1748.1 1616.4,1746.5 1616.4,1744.8 1616.4,1743.1 1616.4,1741.4 1616.4,1739.7 1616.4,1738.0 1616.4,1736.4 1616.4,1734.7 1616.4,1733.0 1616.4,1731.3 1616.4,1729.6 1616.4,1728.0 1616.4,1726.3 1616.4,1724.6 1616.4,1722.9 1616.4,1721.2 1616.4,1719.5 1616.4,1717.9 1616.4,1716.2 1616.4,1714.5 1616.4,1712.8 1616.4,1711.1 1616.4,1709.4 1616.4,1707.8 1616.4,1706.1 1616.4,1704.4 1616.4,1702.7 1616.4,1701.0 1616.4,1699.3 1616.4,1697.7 1616.4,1696.0 1616.4,1694.3 1616.4,1692.6 1616.4,1690.9 1616.4,1689.2 1616.4,1687.6 1616.4,1685.9 1616.4,1684.2 1616.4,1682.5 1616.4,1680.8 1616.4,1679.2 1616.4,1677.5 1616.4,1675.8 1616.4,1674.1 1616.4,1672.4 1616.4,1670.7 1616.4,1669.1 1616.4,1667.4 1616.4,1665.7 1616.4,1664.0 1616.4,1662.3 1616.4,1660.6 1616.4,1659.0 1616.4,1657.3 1616.4,1655.6 1616.4,1653.9 1616.4,1652.2 1616.4,1650.5 1616.4,1648.9 1616.4,1647.2 1616.4,1645.5 1616.4,1643.8 1616.4,1642.1 1616.4,1640.5 1616.4,1638.8 1616.4,1637.1 1616.4,1635.4 1616.4,1633.7 1616.4,1632.0 1616.4,1630.4 1616.4,1628.7 1616.4,1627.0 1616.4,1625.3 1616.4,1623.6 1616.4,1621.9 1616.4,1620.3 1616.4,1618.6 1616.4,1616.9 1616.4,1615.2 1616.4,1613.5 1616.4,1611.8 1616.4,1610.2 1616.4,1608.5 1616.4,1606.8 1616.4,1605.1 1616.4,1603.4 1616.4,1601.7 1616.4,1600.1 1616.4,1598.4 1616.4,1596.7 1616.4,1595.0 1616.4,1593.3 1616.4,1591.7 1616.4,1590.0 1616.4,1588.3 1616.4,1586.6 1616.4,1584.9 1616.4,1583.2 1616.4,1581.6 1616.4,1579.9 1616.3,1578.2 1616.2,1576.5 1616.1,1574.8 1616.0,1573.1 1615.8,1571.5 1615.5,1569.8 1615.1,1568.1 1614.6,1566.4 1613.9,1564.7 1613.1,1563.0 1612.2,1561.4 1611.1,1559.7 1609.8,1558.0 1608.6,1556.3 1607.2,1554.6 1605.9,1552.9 1604.8,1551.3 1603.8,1549.6 1603.0,1547.9 1602.6,1546.2 1602.4,1544.5 1602.7,1542.9 1603.2,1541.2 1604.1,1539.5 1605.1,1537.8 1606.3,1536.1 1607.6,1534.4 1609.0,1532.8 1610.2,1531.1 1611.4,1529.4 1612.5,1527.7 1613.4,1526.0 1614.1,1524.3 1614.7,1522.7 1615.2,1521.0 1615.6,1519.3 1615.9,1517.6 1616.0,1515.9 1616.2,1514.2 1616.3,1512.6 1616.6,1512.6 1616.7,1514.2 1616.8,1515.9 1617.0,1517.6 1617.3,1519.3 1617.6,1521.0 1618.1,1522.7 1618.7,1524.3 1619.5,1526.0 1620.4,1527.7 1621.4,1529.4 1622.6,1531.1 1623.9,1532.8 1625.2,1534.4 1626.5,1536.1 1627.7,1537.8 1628.8,1539.5 1629.6,1541.2 1630.2,1542.9 1630.4,1544.5 1630.3,1546.2 1629.8,1547.9 1629.1,1549.6 1628.1,1551.3 1626.9,1552.9 1625.6,1554.6 1624.3,1556.3 1623.0,1558.0 1621.8,1559.7 1620.7,1561.4 1619.7,1563.0 1618.9,1564.7 1618.3,1566.4 1617.8,1568.1 1617.4,1569.8 1617.1,1571.5 1616.9,1573.1 1616.7,1574.8 1616.6,1576.5 1616.5,1578.2 1616.5,1579.9 1616.5,1581.6 1616.4,1583.2 1616.4,1584.9 1616.4,1586.6 1616.4,1588.3 1616.4,1590.0 1616.4,1591.7 1616.4,1593.3 1616.4,1595.0 1616.4,1596.7 1616.4,1598.4 1616.4,1600.1 1616.4,1601.7 1616.4,1603.4 1616.4,1605.1 1616.4,1606.8 1616.4,1608.5 1616.4,1610.2 1616.4,1611.8 1616.4,1613.5 1616.4,1615.2 1616.4,1616.9 1616.4,1618.6 1616.4,1620.3 1616.4,1621.9 1616.4,1623.6 1616.4,1625.3 1616.4,1627.0 1616.4,1628.7 1616.4,1630.4 1616.4,1632.0 1616.4,1633.7 1616.4,1635.4 1616.4,1637.1 1616.4,1638.8 1616.4,1640.5 1616.4,1642.1 1616.4,1643.8 1616.4,1645.5 1616.4,1647.2 1616.4,1648.9 1616.4,1650.5 1616.4,1652.2 1616.4,1653.9 1616.4,1655.6 1616.4,1657.3 1616.4,1659.0 1616.4,1660.6 1616.4,1662.3 1616.4,1664.0 1616.4,1665.7 1616.4,1667.4 1616.4,1669.1 1616.4,1670.7 1616.4,1672.4 1616.4,1674.1 1616.4,1675.8 1616.4,1677.5 1616.4,1679.2 1616.4,1680.8 1616.4,1682.5 1616.4,1684.2 1616.4,1685.9 1616.4,1687.6 1616.4,1689.2 1616.4,1690.9 1616.4,1692.6 1616.4,1694.3 1616.4,1696.0 1616.4,1697.7 1616.4,1699.3 1616.4,1701.0 1616.4,1702.7 1616.4,1704.4 1616.4,1706.1 1616.4,1707.8 1616.4,1709.4 1616.4,1711.1 1616.4,1712.8 1616.4,1714.5 1616.4,1716.2 1616.4,1717.9 1616.4,1719.5 1616.4,1721.2 1616.4,1722.9 1616.4,1724.6 1616.4,1726.3 1616.4,1728.0 1616.4,1729.6 1616.4,1731.3 1616.4,1733.0 1616.4,1734.7 1616.4,1736.4 1616.4,1738.0 1616.4,1739.7 1616.4,1741.4 1616.4,1743.1 1616.4,1744.8 1616.4,1746.5 1616.4,1748.1 1616.4,1749.8 1616.4,1751.5 1616.4,1753.2 1616.4,1754.9 1616.4,1756.6 1616.4,1758.2 1616.4,1759.9 1616.4,1761.6 1616.4,1763.3 1616.4,1765.0 1616.4,1766.7 1616.4,1768.3 1616.4,1770.0 1616.4,1771.7 1616.4,1773.4 1616.5,1775.1 1616.5,1776.7 1616.6,1778.4 1616.6,1780.1 1616.8,1781.8 1617.0,1783.5 1617.2,1785.2 1617.6,1786.8 1618.1,1788.5 1618.7,1790.2 1619.6,1791.9 1620.6,1793.6 1621.9,1795.3 1623.4,1796.9 1625.2,1798.6 1627.2,1800.3 1629.4,1802.0 1631.8,1803.7 1634.3,1805.4 1637.0,1807.0 1639.6,1808.7 1642.3,1810.4 1644.9,1812.1 1647.5,1813.8 1649.9,1815.5 1652.2,1817.1 1654.3,1818.8 1656.3,1820.5 1658.1,1822.2 1659.8,1823.9 1661.3,1825.5 1662.7,1827.2 1663.9,1828.9 1665.0,1830.6 1665.8,1832.3 1666.5,1834.0 1666.8,1835.6 1666.7,1837.3 1666.3,1839.0 1665.3,1840.7 1663.8,1842.4 1661.8,1844.1 1659.3,1845.7 1656.3,1847.4 1652.9,1849.1 1649.3,1850.8 1645.5,1852.5 1641.7,1854.2 1638.0,1855.8 1634.5,1857.5 1631.3,1859.2 1628.4,1860.9 1625.9,1862.6 1623.8,1864.3 1622.0,1865.9 1620.6,1867.6 1619.4,1869.3 1618.6,1871.0 1617.9,1872.7 1617.4,1874.3 1617.1,1876.0 1616.9,1877.7 1616.7,1879.4 1616.6,1881.1Z" fill="#cbe1f5" stroke="#000" stroke-width="2.7" stroke-linejoin="round"/>
<g stroke="#333" stroke-width="2.5" fill="none">
<line x1="1616.42" y1="1811.10" x2="1616.42" y2="1816.60"/>
<line x1="1616.42" y1="1840.21" x2="1616.42" y2="1848.85"/>
<rect x="1610.97" y="1816.60" width="10.90" height="23.61" fill="#bfbfbf" stroke-linejoin="round"/>
<line x1="1610.97" y1="1828.09" x2="1621.87" y2="1828.09" stroke-width="5"/>
</g>
<circle cx="1616.42" cy="1544.80" r="3.5" fill="#333"/>
<g fill="#e0301e"><circle cx="1618.40" cy="1544.80" r="3.7"/><circle cx="1620.30" cy="1811.10" r="3.7"/><circle cx="1617.30" cy="1822.10" r="3.7"/><circle cx="1618.80" cy="1828.09" r="3.7"/><circle cx="1612.80" cy="1840.21" r="3.7"/><circle cx="1619.90" cy="1840.21" r="3.7"/><circle cx="1610.00" cy="1848.85" r="3.7"/></g>
<path d="M1728.1,1876.6 1728.0,1875.0 1727.8,1873.3 1727.5,1871.7 1727.1,1870.1 1726.6,1868.4 1725.8,1866.8 1724.8,1865.2 1723.5,1863.5 1721.9,1861.9 1720.0,1860.3 1717.6,1858.7 1714.9,1857.0 1711.7,1855.4 1708.3,1853.8 1704.5,1852.1 1700.6,1850.5 1696.6,1848.9 1692.7,1847.2 1689.0,1845.6 1685.7,1844.0 1682.8,1842.3 1680.5,1840.7 1679.0,1839.1 1678.1,1837.5 1678.0,1835.8 1678.6,1834.2 1679.8,1832.6 1681.6,1830.9 1683.9,1829.3 1686.5,1827.7 1689.2,1826.0 1692.1,1824.4 1695.0,1822.8 1697.7,1821.1 1700.2,1819.5 1702.5,1817.9 1704.6,1816.3 1706.3,1814.6 1707.8,1813.0 1709.1,1811.4 1710.2,1809.7 1711.3,1808.1 1712.3,1806.5 1713.3,1804.8 1714.3,1803.2 1715.4,1801.6 1716.5,1799.9 1717.7,1798.3 1719.0,1796.7 1720.2,1795.0 1721.4,1793.4 1722.5,1791.8 1723.6,1790.2 1724.5,1788.5 1725.3,1786.9 1726.0,1785.3 1726.6,1783.6 1727.0,1782.0 1727.4,1780.4 1727.7,1778.7 1727.9,1777.1 1728.0,1775.5 1728.1,1773.8 1728.2,1772.2 1728.3,1770.6 1728.3,1769.0 1728.3,1767.3 1728.3,1765.7 1728.3,1764.1 1728.4,1762.4 1728.4,1760.8 1728.4,1759.2 1728.4,1757.5 1728.4,1755.9 1728.4,1754.3 1728.4,1752.6 1728.4,1751.0 1728.4,1749.4 1728.4,1747.7 1728.4,1746.1 1728.4,1744.5 1728.4,1742.9 1728.4,1741.2 1728.4,1739.6 1728.4,1738.0 1728.4,1736.3 1728.4,1734.7 1728.4,1733.1 1728.4,1731.4 1728.4,1729.8 1728.4,1728.2 1728.4,1726.5 1728.4,1724.9 1728.4,1723.3 1728.4,1721.7 1728.4,1720.0 1728.4,1718.4 1728.4,1716.8 1728.4,1715.1 1728.4,1713.5 1728.4,1711.9 1728.4,1710.2 1728.4,1708.6 1728.4,1707.0 1728.4,1705.3 1728.4,1703.7 1728.4,1702.1 1728.4,1700.5 1728.4,1698.8 1728.4,1697.2 1728.4,1695.6 1728.4,1693.9 1728.4,1692.3 1728.4,1690.7 1728.4,1689.0 1728.4,1687.4 1728.4,1685.8 1728.4,1684.1 1728.4,1682.5 1728.4,1680.9 1728.4,1679.2 1728.4,1677.6 1728.4,1676.0 1728.4,1674.4 1728.4,1672.7 1728.4,1671.1 1728.4,1669.5 1728.4,1667.8 1728.4,1666.2 1728.4,1664.6 1728.4,1662.9 1728.4,1661.3 1728.4,1659.7 1728.4,1658.0 1728.4,1656.4 1728.4,1654.8 1728.4,1653.2 1728.4,1651.5 1728.4,1649.9 1728.4,1648.3 1728.4,1646.6 1728.4,1645.0 1728.4,1643.4 1728.4,1641.7 1728.4,1640.1 1728.4,1638.5 1728.4,1636.8 1728.4,1635.2 1728.4,1633.6 1728.4,1632.0 1728.4,1630.3 1728.4,1628.7 1728.4,1627.1 1728.4,1625.4 1728.4,1623.8 1728.4,1622.2 1728.4,1620.5 1728.4,1618.9 1728.4,1617.3 1728.4,1615.6 1728.4,1614.0 1728.4,1612.4 1728.4,1610.7 1728.4,1609.1 1728.4,1607.5 1728.4,1605.9 1728.4,1604.2 1728.4,1602.6 1728.4,1601.0 1728.4,1599.3 1728.4,1597.7 1728.4,1596.1 1728.4,1594.4 1728.3,1592.8 1728.3,1591.2 1728.3,1589.5 1728.3,1587.9 1728.2,1586.3 1728.2,1584.7 1728.1,1583.0 1728.0,1581.4 1727.8,1579.8 1727.5,1578.1 1727.2,1576.5 1726.8,1574.9 1726.3,1573.2 1725.6,1571.6 1724.9,1570.0 1724.0,1568.3 1723.1,1566.7 1722.1,1565.1 1721.0,1563.4 1720.0,1561.8 1719.0,1560.2 1718.1,1558.6 1717.3,1556.9 1716.8,1555.3 1716.5,1553.7 1716.5,1552.0 1716.7,1550.4 1717.2,1548.8 1717.8,1547.1 1718.7,1545.5 1719.6,1543.9 1720.7,1542.2 1721.7,1540.6 1722.8,1539.0 1723.8,1537.4 1724.6,1535.7 1725.4,1534.1 1726.1,1532.5 1726.6,1530.8 1727.1,1529.2 1727.4,1527.6 1727.7,1525.9 1727.9,1524.3 1728.1,1522.7 1728.2,1521.0 1728.2,1519.4 1728.5,1519.4 1728.6,1521.0 1728.7,1522.7 1728.8,1524.3 1729.0,1525.9 1729.3,1527.6 1729.6,1529.2 1730.1,1530.8 1730.6,1532.5 1731.3,1534.1 1732.1,1535.7 1733.0,1537.4 1733.9,1539.0 1735.0,1540.6 1736.0,1542.2 1737.1,1543.9 1738.0,1545.5 1738.9,1547.1 1739.6,1548.8 1740.0,1550.4 1740.2,1552.0 1740.2,1553.7 1739.9,1555.3 1739.4,1556.9 1738.6,1558.6 1737.8,1560.2 1736.8,1561.8 1735.7,1563.4 1734.7,1565.1 1733.6,1566.7 1732.7,1568.3 1731.8,1570.0 1731.1,1571.6 1730.4,1573.2 1729.9,1574.9 1729.5,1576.5 1729.2,1578.1 1728.9,1579.8 1728.8,1581.4 1728.6,1583.0 1728.5,1584.7 1728.5,1586.3 1728.4,1587.9 1728.4,1589.5 1728.4,1591.2 1728.4,1592.8 1728.4,1594.4 1728.4,1596.1 1728.4,1597.7 1728.4,1599.3 1728.4,1601.0 1728.4,1602.6 1728.4,1604.2 1728.4,1605.9 1728.4,1607.5 1728.4,1609.1 1728.4,1610.7 1728.4,1612.4 1728.4,1614.0 1728.4,1615.6 1728.4,1617.3 1728.4,1618.9 1728.4,1620.5 1728.4,1622.2 1728.4,1623.8 1728.4,1625.4 1728.4,1627.1 1728.4,1628.7 1728.4,1630.3 1728.4,1632.0 1728.4,1633.6 1728.4,1635.2 1728.4,1636.8 1728.4,1638.5 1728.4,1640.1 1728.4,1641.7 1728.4,1643.4 1728.4,1645.0 1728.4,1646.6 1728.4,1648.3 1728.4,1649.9 1728.4,1651.5 1728.4,1653.2 1728.4,1654.8 1728.4,1656.4 1728.4,1658.0 1728.4,1659.7 1728.4,1661.3 1728.4,1662.9 1728.4,1664.6 1728.4,1666.2 1728.4,1667.8 1728.4,1669.5 1728.4,1671.1 1728.4,1672.7 1728.4,1674.4 1728.4,1676.0 1728.4,1677.6 1728.4,1679.2 1728.4,1680.9 1728.4,1682.5 1728.4,1684.1 1728.4,1685.8 1728.4,1687.4 1728.4,1689.0 1728.4,1690.7 1728.4,1692.3 1728.4,1693.9 1728.4,1695.6 1728.4,1697.2 1728.4,1698.8 1728.4,1700.5 1728.4,1702.1 1728.4,1703.7 1728.4,1705.3 1728.4,1707.0 1728.4,1708.6 1728.4,1710.2 1728.4,1711.9 1728.4,1713.5 1728.4,1715.1 1728.4,1716.8 1728.4,1718.4 1728.4,1720.0 1728.4,1721.7 1728.4,1723.3 1728.4,1724.9 1728.4,1726.5 1728.4,1728.2 1728.4,1729.8 1728.4,1731.4 1728.4,1733.1 1728.4,1734.7 1728.4,1736.3 1728.4,1738.0 1728.4,1739.6 1728.4,1741.2 1728.4,1742.9 1728.4,1744.5 1728.4,1746.1 1728.4,1747.7 1728.4,1749.4 1728.4,1751.0 1728.4,1752.6 1728.4,1754.3 1728.4,1755.9 1728.4,1757.5 1728.4,1759.2 1728.4,1760.8 1728.4,1762.4 1728.4,1764.1 1728.4,1765.7 1728.4,1767.3 1728.4,1769.0 1728.4,1770.6 1728.5,1772.2 1728.6,1773.8 1728.7,1775.5 1728.8,1777.1 1729.0,1778.7 1729.3,1780.4 1729.7,1782.0 1730.1,1783.6 1730.7,1785.3 1731.4,1786.9 1732.2,1788.5 1733.2,1790.2 1734.2,1791.8 1735.3,1793.4 1736.5,1795.0 1737.8,1796.7 1739.0,1798.3 1740.2,1799.9 1741.3,1801.6 1742.4,1803.2 1743.5,1804.8 1744.4,1806.5 1745.4,1808.1 1746.5,1809.7 1747.6,1811.4 1748.9,1813.0 1750.4,1814.6 1752.2,1816.3 1754.2,1817.9 1756.5,1819.5 1759.0,1821.1 1761.7,1822.8 1764.6,1824.4 1767.5,1826.0 1770.3,1827.7 1772.9,1829.3 1775.1,1830.9 1776.9,1832.6 1778.1,1834.2 1778.7,1835.8 1778.6,1837.5 1777.8,1839.1 1776.2,1840.7 1773.9,1842.3 1771.1,1844.0 1767.7,1845.6 1764.0,1847.2 1760.1,1848.9 1756.1,1850.5 1752.2,1852.1 1748.5,1853.8 1745.0,1855.4 1741.8,1857.0 1739.1,1858.7 1736.7,1860.3 1734.8,1861.9 1733.2,1863.5 1731.9,1865.2 1730.9,1866.8 1730.2,1868.4 1729.6,1870.1 1729.2,1871.7 1728.9,1873.3 1728.7,1875.0 1728.6,1876.6Z" fill="#d8edf9" stroke="#000" stroke-width="2.7" stroke-linejoin="round"/>
<g stroke="#333" stroke-width="2.5" fill="none">
<line x1="1728.36" y1="1805.25" x2="1728.36" y2="1814.90"/>
<line x1="1728.36" y1="1839.20" x2="1728.36" y2="1843.41"/>
<rect x="1722.91" y="1814.90" width="10.90" height="24.30" fill="#bfbfbf" stroke-linejoin="round"/>
<line x1="1722.91" y1="1832.55" x2="1733.81" y2="1832.55" stroke-width="5"/>
</g>
<circle cx="1728.36" cy="1552.60" r="3.5" fill="#333"/>
<g fill="#e0301e"><circle cx="1732.30" cy="1552.60" r="3.7"/><circle cx="1722.80" cy="1805.25" r="3.7"/><circle cx="1726.00" cy="1824.54" r="3.7"/><circle cx="1732.00" cy="1832.55" r="3.7"/><circle cx="1721.70" cy="1836.87" r="3.7"/><circle cx="1730.10" cy="1841.53" r="3.7"/><circle cx="1725.50" cy="1843.41" r="3.7"/></g>
<g font-family='"Liberation Sans", Arial, Helvetica, sans-serif' font-size="19.5" fill="#4d4d4d" text-anchor="end">
<text x="83.0" y="1936.14">−1</text>
<text x="83.0" y="1866.50">0</text>
<text x="83.0" y="1796.86">1</text>
<text x="83.0" y="1727.22">2</text>
<text x="83.0" y="1657.58">3</text>
<text x="83.0" y="1587.94">4</text>
<text x="83.0" y="1518.30">5</text>
</g>
<text transform="translate(49.1,1718.4) rotate(-90)" font-family='"Liberation Sans", Arial, Helvetica, sans-serif' font-size="24.4" fill="#000" text-anchor="middle">value</text>
<g font-family='"Liberation Sans", Arial, Helvetica, sans-serif' font-size="20" fill="#4d4d4d" text-anchor="end" style="word-spacing:6.2px">
<text transform="translate(175.20,1955.3) rotate(-90)">Exome tumor normal non syn</text>
<text transform="translate(287.14,1955.3) rotate(-90)">Exome tumor only non syn</text>
<text transform="translate(399.08,1955.3) rotate(-90)">Illumina non syn</text>
<text transform="translate(511.02,1955.3) rotate(-90)">NEO syn</text>
<text transform="translate(622.96,1955.3) rotate(-90)">Exome tumor normal syn</text>
<text transform="translate(734.90,1955.3) rotate(-90)">Exome tumor only syn</text>
<text transform="translate(846.84,1955.3) rotate(-90)">Illumina syn</text>
<text transform="translate(958.78,1955.3) rotate(-90)">Agilent Custom syn</text>
<text transform="translate(1070.72,1955.3) rotate(-90)">Agilent Custom non syn</text>
<text transform="translate(1182.66,1955.3) rotate(-90)">NEO non syn</text>
<text transform="translate(1294.60,1955.3) rotate(-90)">Qiagen Mutect syn</text>
<text transform="translate(1406.54,1955.3) rotate(-90)">Qiagen Mutect non syn</text>
<text transform="translate(1518.48,1955.3) rotate(-90)">Thermo non syn</text>
<text transform="translate(1630.42,1955.3) rotate(-90)">Qiagen Genomics non syn</text>
<text transform="translate(1742.36,1955.3) rotate(-90)">Qiagen Genomics syn</text>
</g>
<defs><linearGradient id="cb" x1="0" y1="0" x2="0" y2="1"><stop offset="0" stop-color="#6070bf"/><stop offset="0.25" stop-color="#8290d2"/><stop offset="0.5" stop-color="#a3b1e2"/><stop offset="0.75" stop-color="#bed1ef"/><stop offset="1" stop-color="#dbf0fa"/></linearGradient></defs>
<rect x="1832.1" y="1638.9" width="39.90" height="194.20" fill="url(#cb)"/>
<g stroke="#fff" stroke-width="2.7">
<line x1="1832.1" y1="1671.70" x2="1840.1" y2="1671.70"/><line x1="1863.0" y1="1671.70" x2="1871.2" y2="1671.70"/>
<line x1="1832.1" y1="1710.30" x2="1840.1" y2="1710.30"/><line x1="1863.0" y1="1710.30" x2="1871.2" y2="1710.30"/>
<line x1="1832.1" y1="1748.90" x2="1840.1" y2="1748.90"/><line x1="1863.0" y1="1748.90" x2="1871.2" y2="1748.90"/>
<line x1="1832.1" y1="1787.50" x2="1840.1" y2="1787.50"/><line x1="1863.0" y1="1787.50" x2="1871.2" y2="1787.50"/>
<line x1="1832.1" y1="1826.10" x2="1840.1" y2="1826.10"/><line x1="1863.0" y1="1826.10" x2="1871.2" y2="1826.10"/>
</g>
<g font-family='"Liberation Sans", Arial, Helvetica, sans-serif' font-size="19.7" fill="#000">
<text x="1883.5" y="1679.40">0.99</text>
<text x="1883.5" y="1718.00">0.98</text>
<text x="1883.5" y="1756.60">0.97</text>
<text x="1883.5" y="1795.20">0.96</text>
<text x="1883.5" y="1833.80">0.95</text>
</g>
<text x="1832.6" y="1623.8" font-family='"Liberation Sans", Arial, Helvetica, sans-serif' font-size="24.3" fill="#000">pearson</text>
</svg>
</body></html>
